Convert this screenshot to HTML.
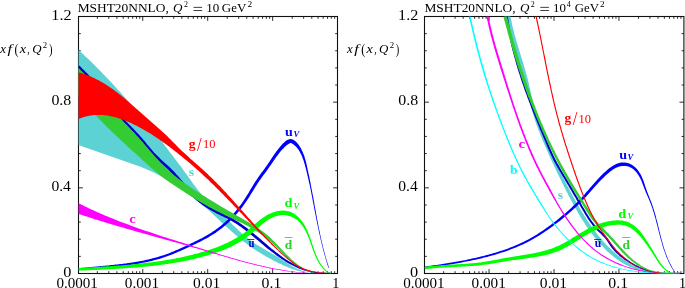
<!DOCTYPE html>
<html><head><meta charset="utf-8"><style>
html,body{margin:0;padding:0;background:#fff;width:685px;height:288px;overflow:hidden}
svg{display:block;font-family:"Liberation Serif",serif;will-change:transform}
</style></head><body>
<svg width="685" height="288" viewBox="0 0 685 288">
<defs>
<clipPath id="cl"><rect x="78.50" y="16.50" width="259.00" height="257.00"/></clipPath>
<clipPath id="cr"><rect x="424.50" y="16.50" width="259.40" height="257.00"/></clipPath>
</defs>
<rect x="78.50" y="16.50" width="259.00" height="257.00" fill="none" stroke="#111" stroke-width="1.1"/>
<path d="M97.35,273.50v-2.30M97.35,16.50v2.30M108.79,273.50v-2.30M108.79,16.50v2.30M116.90,273.50v-2.30M116.90,16.50v2.30M123.20,273.50v-2.30M123.20,16.50v2.30M128.34,273.50v-2.30M128.34,16.50v2.30M132.69,273.50v-2.30M132.69,16.50v2.30M136.46,273.50v-2.30M136.46,16.50v2.30M139.78,273.50v-2.30M139.78,16.50v2.30M142.75,273.50v-4.40M142.75,16.50v4.40M162.30,273.50v-2.30M162.30,16.50v2.30M173.74,273.50v-2.30M173.74,16.50v2.30M181.85,273.50v-2.30M181.85,16.50v2.30M188.15,273.50v-2.30M188.15,16.50v2.30M193.29,273.50v-2.30M193.29,16.50v2.30M197.64,273.50v-2.30M197.64,16.50v2.30M201.41,273.50v-2.30M201.41,16.50v2.30M204.73,273.50v-2.30M204.73,16.50v2.30M207.70,273.50v-4.40M207.70,16.50v4.40M227.25,273.50v-2.30M227.25,16.50v2.30M238.69,273.50v-2.30M238.69,16.50v2.30M246.80,273.50v-2.30M246.80,16.50v2.30M253.10,273.50v-2.30M253.10,16.50v2.30M258.24,273.50v-2.30M258.24,16.50v2.30M262.59,273.50v-2.30M262.59,16.50v2.30M266.36,273.50v-2.30M266.36,16.50v2.30M269.68,273.50v-2.30M269.68,16.50v2.30M272.65,273.50v-4.40M272.65,16.50v4.40M292.20,273.50v-2.30M292.20,16.50v2.30M303.64,273.50v-2.30M303.64,16.50v2.30M311.75,273.50v-2.30M311.75,16.50v2.30M318.05,273.50v-2.30M318.05,16.50v2.30M323.19,273.50v-2.30M323.19,16.50v2.30M327.54,273.50v-2.30M327.54,16.50v2.30M331.31,273.50v-2.30M331.31,16.50v2.30M334.63,273.50v-2.30M334.63,16.50v2.30M78.50,256.37h2.30M337.50,256.37h-2.30M78.50,239.23h2.30M337.50,239.23h-2.30M78.50,222.10h2.30M337.50,222.10h-2.30M78.50,204.97h2.30M337.50,204.97h-2.30M78.50,187.83h4.40M337.50,187.83h-4.40M78.50,170.70h2.30M337.50,170.70h-2.30M78.50,153.57h2.30M337.50,153.57h-2.30M78.50,136.43h2.30M337.50,136.43h-2.30M78.50,119.30h2.30M337.50,119.30h-2.30M78.50,102.17h4.40M337.50,102.17h-4.40M78.50,85.03h2.30M337.50,85.03h-2.30M78.50,67.90h2.30M337.50,67.90h-2.30M78.50,50.77h2.30M337.50,50.77h-2.30M78.50,33.63h2.30M337.50,33.63h-2.30" stroke="#151515" stroke-width="0.9" fill="none"/>
<rect x="424.50" y="16.50" width="259.40" height="257.00" fill="none" stroke="#111" stroke-width="1.1"/>
<path d="M443.65,273.50v-2.30M443.65,16.50v2.30M455.09,273.50v-2.30M455.09,16.50v2.30M463.20,273.50v-2.30M463.20,16.50v2.30M469.50,273.50v-2.30M469.50,16.50v2.30M474.64,273.50v-2.30M474.64,16.50v2.30M478.99,273.50v-2.30M478.99,16.50v2.30M482.76,273.50v-2.30M482.76,16.50v2.30M486.08,273.50v-2.30M486.08,16.50v2.30M489.05,273.50v-4.40M489.05,16.50v4.40M508.60,273.50v-2.30M508.60,16.50v2.30M520.04,273.50v-2.30M520.04,16.50v2.30M528.15,273.50v-2.30M528.15,16.50v2.30M534.45,273.50v-2.30M534.45,16.50v2.30M539.59,273.50v-2.30M539.59,16.50v2.30M543.94,273.50v-2.30M543.94,16.50v2.30M547.71,273.50v-2.30M547.71,16.50v2.30M551.03,273.50v-2.30M551.03,16.50v2.30M554.00,273.50v-4.40M554.00,16.50v4.40M573.55,273.50v-2.30M573.55,16.50v2.30M584.99,273.50v-2.30M584.99,16.50v2.30M593.10,273.50v-2.30M593.10,16.50v2.30M599.40,273.50v-2.30M599.40,16.50v2.30M604.54,273.50v-2.30M604.54,16.50v2.30M608.89,273.50v-2.30M608.89,16.50v2.30M612.66,273.50v-2.30M612.66,16.50v2.30M615.98,273.50v-2.30M615.98,16.50v2.30M618.95,273.50v-4.40M618.95,16.50v4.40M638.50,273.50v-2.30M638.50,16.50v2.30M649.94,273.50v-2.30M649.94,16.50v2.30M658.05,273.50v-2.30M658.05,16.50v2.30M664.35,273.50v-2.30M664.35,16.50v2.30M669.49,273.50v-2.30M669.49,16.50v2.30M673.84,273.50v-2.30M673.84,16.50v2.30M677.61,273.50v-2.30M677.61,16.50v2.30M680.93,273.50v-2.30M680.93,16.50v2.30M424.50,256.37h2.30M683.90,256.37h-2.30M424.50,239.23h2.30M683.90,239.23h-2.30M424.50,222.10h2.30M683.90,222.10h-2.30M424.50,204.97h2.30M683.90,204.97h-2.30M424.50,187.83h4.40M683.90,187.83h-4.40M424.50,170.70h2.30M683.90,170.70h-2.30M424.50,153.57h2.30M683.90,153.57h-2.30M424.50,136.43h2.30M683.90,136.43h-2.30M424.50,119.30h2.30M683.90,119.30h-2.30M424.50,102.17h4.40M683.90,102.17h-4.40M424.50,85.03h2.30M683.90,85.03h-2.30M424.50,67.90h2.30M683.90,67.90h-2.30M424.50,50.77h2.30M683.90,50.77h-2.30M424.50,33.63h2.30M683.90,33.63h-2.30" stroke="#151515" stroke-width="0.9" fill="none"/>
<g clip-path="url(#cl)">
<polygon points="78.2,49.8 79.4,50.8 80.5,51.8 81.6,52.8 82.7,53.8 83.8,54.8 84.9,55.9 86.0,56.9 87.1,58.0 88.2,59.0 89.3,60.0 90.4,61.1 91.4,62.1 92.5,63.2 93.6,64.2 94.7,65.3 95.7,66.4 96.8,67.4 97.8,68.5 98.9,69.6 100.0,70.7 101.0,71.7 102.1,72.8 103.1,73.9 104.1,75.0 105.2,76.1 106.2,77.2 107.3,78.3 108.3,79.3 109.3,80.4 110.4,81.5 111.4,82.6 112.4,83.7 113.4,84.8 114.5,86.0 115.5,87.1 116.5,88.2 117.5,89.3 118.5,90.4 119.6,91.5 120.6,92.6 121.6,93.7 122.6,94.9 123.6,96.0 124.6,97.1 125.6,98.2 126.6,99.3 127.6,100.5 128.6,101.6 129.6,102.7 130.7,103.8 131.7,104.9 132.7,106.1 133.7,107.2 134.7,108.3 135.7,109.5 136.7,110.6 137.7,111.7 138.7,112.8 139.7,114.0 140.7,115.1 141.7,116.2 142.7,117.3 143.6,118.5 144.6,119.6 145.6,120.7 146.6,121.9 147.6,123.0 148.5,124.2 149.5,125.3 150.5,126.5 151.4,127.7 152.4,128.8 153.3,130.0 154.3,131.2 155.2,132.3 156.1,133.5 157.0,134.7 157.9,135.9 158.8,137.1 159.7,138.4 160.6,139.6 161.5,140.8 162.4,142.0 163.3,143.2 164.2,144.4 165.0,145.7 165.9,146.9 166.8,148.1 167.7,149.3 168.6,150.5 169.5,151.7 170.4,152.9 171.3,154.1 172.2,155.3 173.2,156.5 174.1,157.7 175.0,158.9 175.9,160.1 176.8,161.3 177.7,162.5 178.6,163.7 179.5,164.9 180.5,166.1 181.4,167.3 182.3,168.5 183.2,169.7 184.0,170.9 184.9,172.2 185.8,173.4 186.7,174.6 187.6,175.8 188.4,177.1 189.3,178.3 190.2,179.5 191.1,180.7 191.9,182.0 192.8,183.2 193.7,184.4 194.6,185.6 195.5,186.8 196.4,188.0 197.3,189.2 198.2,190.4 199.2,191.5 200.1,192.7 201.1,193.8 202.1,195.0 203.1,196.1 204.1,197.2 205.1,198.3 206.2,199.4 207.2,200.4 208.3,201.5 209.3,202.6 210.4,203.6 211.5,204.7 212.6,205.7 213.7,206.8 214.8,207.8 215.9,208.8 217.0,209.9 218.1,210.9 219.2,211.9 220.3,212.9 221.4,214.0 222.5,215.0 223.7,216.0 224.8,217.1 225.9,218.1 227.0,219.1 228.0,220.2 229.1,221.2 230.2,222.3 231.3,223.3 232.4,224.4 233.5,225.4 234.5,226.5 235.6,227.5 236.7,228.6 237.8,229.6 238.9,230.7 240.0,231.7 241.1,232.7 242.2,233.7 243.3,234.7 244.4,235.7 245.6,236.6 246.7,237.6 247.9,238.5 249.1,239.4 250.3,240.3 251.5,241.2 252.7,242.0 254.0,242.9 255.2,243.7 256.5,244.5 257.8,245.3 259.1,246.1 260.3,246.9 261.6,247.6 262.9,248.4 264.3,249.1 265.6,249.9 266.9,250.7 268.2,251.4 269.5,252.2 270.8,252.9 272.1,253.7 273.5,254.4 274.8,255.2 276.1,256.0 277.4,256.8 278.7,257.6 279.9,258.4 281.2,259.2 282.5,260.0 283.8,260.9 285.0,261.7 286.3,262.5 287.6,263.3 288.8,264.1 290.1,264.9 291.4,265.6 292.7,266.4 294.0,267.1 295.3,267.8 296.6,268.5 298.0,269.1 299.3,269.7 300.7,270.3 302.1,270.8 303.5,271.3 304.9,271.7 306.3,272.1 307.8,272.4 309.3,272.7 310.8,272.9 312.3,273.1 313.8,273.2 315.3,273.3 316.9,273.3 318.5,273.2 320.1,273.1 320.0,273.0 318.5,273.2 316.9,273.2 315.4,273.3 313.9,273.2 312.3,273.2 310.8,273.1 309.3,273.0 307.8,272.8 306.3,272.6 304.8,272.4 303.4,272.1 301.9,271.8 300.4,271.5 299.0,271.1 297.5,270.7 296.1,270.3 294.7,269.8 293.3,269.3 291.8,268.8 290.4,268.3 289.0,267.7 287.6,267.2 286.2,266.6 284.8,266.0 283.5,265.4 282.1,264.7 280.7,264.1 279.3,263.4 278.0,262.7 276.6,262.1 275.3,261.4 273.9,260.7 272.6,260.0 271.2,259.3 269.9,258.6 268.5,257.8 267.2,257.1 265.9,256.4 264.6,255.6 263.3,254.8 262.0,254.1 260.7,253.3 259.4,252.5 258.1,251.7 256.8,250.9 255.6,250.1 254.3,249.2 253.0,248.4 251.8,247.5 250.6,246.7 249.3,245.8 248.1,244.9 246.9,244.0 245.7,243.1 244.5,242.2 243.3,241.3 242.1,240.4 240.9,239.4 239.7,238.5 238.6,237.5 237.4,236.6 236.3,235.6 235.1,234.6 234.0,233.6 232.8,232.6 231.7,231.6 230.6,230.6 229.5,229.6 228.4,228.6 227.3,227.6 226.1,226.5 225.0,225.5 223.9,224.5 222.8,223.4 221.7,222.4 220.6,221.4 219.5,220.3 218.4,219.3 217.3,218.3 216.2,217.2 215.1,216.2 214.0,215.2 212.8,214.2 211.7,213.1 210.6,212.1 209.5,211.1 208.3,210.1 207.2,209.1 206.0,208.1 204.9,207.1 203.7,206.2 202.6,205.2 201.4,204.2 200.2,203.3 199.1,202.3 197.9,201.3 196.7,200.4 195.5,199.4 194.3,198.5 193.1,197.6 191.9,196.7 190.7,195.7 189.5,194.8 188.3,193.9 187.1,193.0 185.8,192.1 184.6,191.2 183.4,190.4 182.1,189.5 180.9,188.6 179.6,187.8 178.4,186.9 177.1,186.1 175.9,185.3 174.6,184.4 173.3,183.6 172.1,182.8 170.8,182.0 169.5,181.2 168.2,180.4 166.9,179.6 165.6,178.9 164.3,178.1 163.0,177.4 161.7,176.6 160.4,175.9 159.0,175.2 157.7,174.5 156.4,173.8 155.0,173.1 153.7,172.4 152.3,171.8 150.9,171.2 149.5,170.6 148.2,170.0 146.8,169.4 145.4,168.8 144.0,168.2 142.6,167.7 141.2,167.1 139.7,166.6 138.3,166.0 136.9,165.5 135.5,165.0 134.1,164.5 132.6,164.0 131.2,163.5 129.8,163.0 128.4,162.5 126.9,162.0 125.5,161.5 124.1,161.0 122.6,160.5 121.2,160.0 119.8,159.5 118.3,159.0 116.9,158.5 115.5,158.0 114.0,157.5 112.6,157.0 111.2,156.5 109.7,156.1 108.3,155.6 106.9,155.1 105.4,154.6 104.0,154.1 102.6,153.6 101.1,153.1 99.7,152.6 98.3,152.1 96.9,151.6 95.4,151.1 94.0,150.6 92.6,150.1 91.1,149.6 89.7,149.1 88.3,148.6 86.9,148.1 85.4,147.6 84.0,147.1 82.6,146.6 81.2,146.1 79.8,145.5 78.3,145.0" fill="#5cd2d4" stroke="none" />
<polygon points="77.3,67.4 78.4,68.5 79.5,69.5 80.5,70.6 81.6,71.6 82.7,72.7 83.7,73.8 84.8,74.9 85.8,75.9 86.8,77.0 87.9,78.1 88.9,79.2 89.9,80.3 90.9,81.4 91.9,82.6 92.9,83.7 93.9,84.8 94.9,86.0 95.9,87.1 96.8,88.2 97.8,89.4 98.7,90.6 99.7,91.7 100.6,92.9 101.6,94.1 102.5,95.3 103.4,96.5 104.3,97.6 105.2,98.8 106.1,100.1 107.0,101.3 107.9,102.5 108.8,103.7 109.7,104.9 110.6,106.1 111.5,107.3 112.4,108.6 113.3,109.8 114.2,111.0 115.1,112.2 116.0,113.4 117.0,114.6 117.9,115.8 118.8,117.0 119.8,118.1 120.8,119.3 121.8,120.4 122.8,121.6 123.8,122.7 124.8,123.8 125.9,124.9 126.9,126.0 128.0,127.1 129.0,128.2 130.1,129.3 131.1,130.4 132.2,131.5 133.2,132.5 134.3,133.6 135.3,134.7 136.3,135.8 137.3,136.9 138.3,138.0 139.3,139.1 140.3,140.3 141.3,141.4 142.2,142.6 143.2,143.7 144.2,144.9 145.1,146.1 146.1,147.2 147.0,148.4 148.0,149.6 149.0,150.7 150.0,151.9 151.0,153.0 152.0,154.2 153.0,155.3 154.1,156.4 155.1,157.5 156.2,158.5 157.3,159.6 158.4,160.6 159.5,161.7 160.6,162.7 161.7,163.7 162.8,164.7 163.9,165.7 165.0,166.7 166.1,167.7 167.2,168.8 168.3,169.8 169.4,170.8 170.4,171.9 171.5,172.9 172.5,174.0 173.5,175.1 174.5,176.2 175.5,177.3 176.5,178.4 177.5,179.6 178.5,180.7 179.5,181.9 180.4,183.1 181.4,184.2 182.4,185.4 183.4,186.5 184.3,187.7 185.3,188.9 186.3,190.0 187.3,191.1 188.3,192.3 189.4,193.4 190.4,194.5 191.5,195.6 192.5,196.7 193.6,197.7 194.7,198.8 195.9,199.8 197.0,200.8 198.2,201.7 199.4,202.7 200.6,203.6 201.8,204.5 203.1,205.4 204.3,206.3 205.6,207.1 206.9,207.9 208.2,208.8 209.5,209.5 210.8,210.3 212.1,211.0 213.5,211.8 214.9,212.5 216.2,213.2 217.6,213.9 219.0,214.5 220.3,215.2 221.7,215.9 223.1,216.5 224.4,217.2 225.8,217.9 227.1,218.6 228.5,219.3 229.8,220.0 231.1,220.7 232.4,221.4 233.6,222.2 234.9,223.0 236.2,223.8 237.4,224.6 238.6,225.4 239.8,226.3 241.1,227.1 242.3,228.0 243.5,228.9 244.6,229.8 245.8,230.7 247.0,231.6 248.2,232.5 249.3,233.4 250.5,234.4 251.7,235.3 252.8,236.3 254.0,237.2 255.1,238.2 256.3,239.2 257.5,240.1 258.6,241.1 259.8,242.1 260.9,243.1 262.1,244.0 263.3,245.0 264.4,246.0 265.6,247.0 266.8,247.9 268.0,248.9 269.2,249.8 270.4,250.8 271.6,251.7 272.8,252.6 274.1,253.6 275.3,254.5 276.5,255.4 277.7,256.3 279.0,257.2 280.3,258.0 281.5,258.9 282.8,259.7 284.1,260.6 285.3,261.4 286.6,262.2 287.9,262.9 289.2,263.7 290.6,264.4 291.9,265.1 293.2,265.8 294.6,266.5 295.9,267.1 297.3,267.8 298.7,268.4 300.1,268.9 301.5,269.5 302.9,270.0 304.3,270.5 305.7,270.9 307.2,271.3 308.6,271.7 310.1,272.1 311.6,272.4 313.1,272.7 314.6,272.9 316.1,273.2 317.6,273.4 319.1,273.5 320.7,273.6 322.2,273.7 323.8,273.7 325.4,273.7 327.0,273.7 328.6,273.6 330.3,273.5 330.2,272.5 328.6,272.6 327.0,272.7 325.4,272.7 323.8,272.7 322.3,272.7 320.7,272.6 319.2,272.4 317.7,272.3 316.2,272.1 314.7,271.8 313.3,271.5 311.8,271.2 310.4,270.9 309.0,270.5 307.5,270.0 306.1,269.6 304.8,269.1 303.4,268.6 302.0,268.1 300.7,267.5 299.3,266.9 298.0,266.3 296.7,265.6 295.4,265.0 294.0,264.3 292.8,263.6 291.5,262.8 290.2,262.1 288.9,261.3 287.7,260.5 286.4,259.7 285.2,258.9 283.9,258.0 282.7,257.2 281.5,256.3 280.3,255.4 279.1,254.5 277.9,253.6 276.7,252.7 275.5,251.7 274.3,250.8 273.1,249.8 271.9,248.9 270.8,247.9 269.6,246.9 268.4,246.0 267.3,245.0 266.1,244.0 265.0,243.0 263.8,242.0 262.6,241.0 261.5,240.1 260.3,239.1 259.2,238.1 258.0,237.1 256.9,236.1 255.7,235.2 254.6,234.2 253.4,233.2 252.2,232.3 251.0,231.3 249.9,230.4 248.7,229.5 247.5,228.5 246.3,227.6 245.1,226.7 243.8,225.8 242.6,224.9 241.4,224.1 240.1,223.2 238.9,222.3 237.6,221.5 236.3,220.7 235.0,219.9 233.7,219.1 232.4,218.4 231.1,217.6 229.7,216.9 228.4,216.2 227.0,215.5 225.6,214.8 224.3,214.1 222.9,213.5 221.5,212.8 220.2,212.1 218.8,211.4 217.4,210.8 216.1,210.1 214.8,209.4 213.4,208.7 212.1,208.0 210.8,207.2 209.6,206.4 208.3,205.7 207.1,204.9 205.8,204.0 204.6,203.2 203.4,202.3 202.2,201.5 201.1,200.6 199.9,199.7 198.8,198.7 197.7,197.8 196.6,196.8 195.5,195.8 194.4,194.7 193.4,193.7 192.4,192.6 191.3,191.6 190.3,190.5 189.3,189.3 188.3,188.2 187.4,187.1 186.4,185.9 185.4,184.8 184.4,183.6 183.5,182.5 182.5,181.3 181.5,180.2 180.5,179.0 179.6,177.8 178.6,176.7 177.6,175.5 176.5,174.4 175.5,173.3 174.5,172.1 173.4,171.0 172.4,170.0 171.3,168.9 170.2,167.8 169.1,166.8 168.0,165.8 166.9,164.7 165.8,163.7 164.6,162.7 163.5,161.7 162.4,160.7 161.3,159.7 160.2,158.7 159.2,157.6 158.1,156.6 157.0,155.6 156.0,154.5 155.0,153.4 154.0,152.4 153.0,151.2 152.0,150.1 151.0,149.0 150.1,147.8 149.1,146.7 148.2,145.5 147.2,144.4 146.2,143.2 145.3,142.0 144.3,140.8 143.3,139.7 142.4,138.5 141.4,137.4 140.3,136.2 139.3,135.1 138.3,134.0 137.3,132.9 136.2,131.8 135.2,130.7 134.1,129.6 133.1,128.5 132.0,127.4 131.0,126.3 129.9,125.2 128.9,124.2 127.8,123.1 126.8,122.0 125.8,120.9 124.8,119.8 123.8,118.7 122.8,117.5 121.9,116.4 120.9,115.3 120.0,114.1 119.1,112.9 118.2,111.7 117.2,110.6 116.3,109.4 115.4,108.2 114.5,107.0 113.6,105.7 112.8,104.5 111.9,103.3 111.0,102.1 110.1,100.9 109.2,99.7 108.3,98.4 107.4,97.2 106.5,96.0 105.5,94.8 104.6,93.6 103.7,92.4 102.7,91.2 101.8,90.0 100.8,88.9 99.9,87.7 98.9,86.5 97.9,85.4 96.9,84.2 95.9,83.1 94.9,81.9 93.9,80.8 92.9,79.6 91.9,78.5 90.9,77.4 89.8,76.3 88.8,75.2 87.8,74.1 86.7,73.0 85.6,71.9 84.6,70.8 83.5,69.7 82.4,68.7 81.3,67.6 80.3,66.5 79.2,65.5" fill="#0000cd" stroke="none" />
<polygon points="78.4,270.3 79.9,270.1 81.4,270.0 82.9,269.8 84.4,269.7 85.9,269.5 87.4,269.4 88.9,269.2 90.3,269.1 91.8,269.0 93.3,268.8 94.8,268.7 96.3,268.5 97.9,268.4 99.4,268.3 100.9,268.1 102.4,268.0 103.9,267.9 105.4,267.7 106.9,267.6 108.4,267.5 109.9,267.3 111.4,267.2 112.9,267.0 114.5,266.9 116.0,266.7 117.5,266.6 119.0,266.4 120.5,266.2 122.0,266.0 123.5,265.9 125.0,265.7 126.5,265.5 128.0,265.3 129.5,265.1 131.1,264.9 132.6,264.6 134.1,264.4 135.6,264.2 137.0,263.9 138.5,263.7 140.0,263.4 141.5,263.1 143.0,262.8 144.5,262.5 146.0,262.2 147.5,261.9 148.9,261.6 150.4,261.2 151.9,260.9 153.3,260.5 154.8,260.1 156.3,259.7 157.7,259.3 159.2,258.9 160.6,258.5 162.1,258.0 163.5,257.6 164.9,257.1 166.4,256.6 167.8,256.1 169.2,255.5 170.6,255.0 172.0,254.4 173.4,253.9 174.8,253.3 176.2,252.7 177.6,252.1 179.0,251.5 180.4,250.9 181.8,250.3 183.2,249.7 184.6,249.1 185.9,248.5 187.3,247.8 188.7,247.2 190.1,246.5 191.5,245.9 192.8,245.3 194.2,244.6 195.6,243.9 196.9,243.3 198.3,242.6 199.7,241.9 201.0,241.2 202.4,240.5 203.7,239.8 205.1,239.1 206.4,238.4 207.7,237.7 209.0,236.9 210.3,236.1 211.6,235.3 212.9,234.5 214.2,233.7 215.5,232.9 216.7,232.0 218.0,231.1 219.2,230.2 220.4,229.3 221.6,228.4 222.8,227.4 223.9,226.4 225.1,225.4 226.2,224.4 227.4,223.4 228.5,222.4 229.6,221.4 230.7,220.3 231.8,219.2 232.8,218.1 233.9,217.0 234.9,215.9 235.9,214.8 237.0,213.6 237.9,212.5 238.9,211.3 239.9,210.1 240.8,208.9 241.8,207.7 242.7,206.5 243.6,205.2 244.5,204.0 245.4,202.8 246.2,201.5 247.1,200.2 247.9,199.0 248.8,197.7 249.6,196.4 250.4,195.1 251.2,193.8 252.0,192.5 252.8,191.2 253.5,189.9 254.3,188.7 255.1,187.4 255.9,186.1 256.7,184.9 257.5,183.6 258.3,182.4 259.2,181.1 260.0,179.9 260.9,178.7 261.7,177.5 262.6,176.3 263.5,175.1 264.4,173.9 265.3,172.7 266.2,171.5 267.1,170.3 268.0,169.0 268.8,167.8 269.7,166.6 270.6,165.3 271.5,164.1 272.3,162.8 273.2,161.6 274.0,160.3 274.9,159.1 275.8,157.8 276.6,156.6 277.5,155.4 278.4,154.2 279.3,153.0 280.3,151.8 281.2,150.6 282.3,149.5 283.3,148.4 284.4,147.3 285.5,146.3 286.6,145.3 287.8,144.4 288.9,143.7 289.8,143.3 290.5,143.1 291.1,143.1 291.9,143.4 292.8,144.0 293.9,144.8 294.9,145.7 295.9,146.6 296.8,147.6 297.7,148.7 298.5,149.8 299.3,151.0 300.0,152.2 300.6,153.5 301.3,154.8 301.9,156.1 302.4,157.5 302.9,158.9 303.5,160.3 303.9,161.8 304.4,163.2 304.8,164.7 305.2,166.2 305.6,167.7 306.0,169.2 306.4,170.7 306.7,172.2 307.1,173.7 307.4,175.2 307.8,176.7 308.1,178.2 308.5,179.7 308.8,181.2 309.1,182.7 309.5,184.2 309.8,185.6 310.1,187.1 310.4,188.6 310.7,190.1 311.0,191.6 311.3,193.1 311.6,194.5 311.9,196.0 312.2,197.5 312.4,199.0 312.7,200.5 313.0,201.9 313.3,203.4 313.6,204.9 313.9,206.3 314.1,207.8 314.4,209.3 314.7,210.8 315.0,212.2 315.3,213.7 315.6,215.2 315.8,216.6 316.1,218.1 316.4,219.6 316.7,221.0 317.0,222.5 317.3,224.0 317.6,225.4 317.9,226.9 318.2,228.3 318.5,229.8 318.8,231.3 319.1,232.7 319.5,234.2 319.8,235.6 320.1,237.1 320.4,238.6 320.8,240.0 321.1,241.5 321.5,243.0 321.8,244.4 322.2,245.9 322.6,247.3 322.9,248.8 323.3,250.3 323.7,251.7 324.1,253.2 324.5,254.7 324.9,256.1 325.3,257.6 325.7,259.1 326.2,260.5 326.6,262.0 327.1,263.5 327.5,264.9 328.0,266.4 328.5,267.9 329.0,267.7 328.5,266.2 328.1,264.8 327.6,263.3 327.1,261.8 326.7,260.4 326.3,258.9 325.8,257.4 325.4,256.0 325.0,254.5 324.6,253.0 324.2,251.6 323.8,250.1 323.5,248.7 323.1,247.2 322.7,245.7 322.4,244.3 322.0,242.8 321.7,241.4 321.4,239.9 321.0,238.4 320.7,237.0 320.4,235.5 320.1,234.1 319.8,232.6 319.5,231.1 319.2,229.7 318.9,228.2 318.6,226.7 318.3,225.3 318.0,223.8 317.8,222.3 317.5,220.9 317.2,219.4 316.9,217.9 316.7,216.5 316.4,215.0 316.1,213.5 315.9,212.1 315.6,210.6 315.3,209.1 315.1,207.7 314.8,206.2 314.5,204.7 314.3,203.2 314.0,201.7 313.7,200.3 313.5,198.8 313.2,197.3 312.9,195.8 312.6,194.3 312.4,192.9 312.1,191.4 311.8,189.9 311.5,188.4 311.2,186.9 310.9,185.4 310.7,183.9 310.4,182.4 310.1,180.9 309.8,179.4 309.5,177.9 309.2,176.4 308.9,174.9 308.5,173.4 308.2,171.9 307.9,170.4 307.5,168.8 307.2,167.3 306.9,165.8 306.5,164.3 306.2,162.8 305.8,161.2 305.4,159.7 304.9,158.2 304.5,156.8 304.0,155.3 303.4,153.9 302.9,152.4 302.2,151.0 301.6,149.7 300.9,148.3 300.1,147.0 299.3,145.7 298.4,144.5 297.4,143.3 296.3,142.1 295.1,141.0 293.7,140.0 292.1,139.2 290.2,139.0 288.4,139.4 286.8,140.3 285.4,141.3 284.1,142.5 282.9,143.6 281.8,144.8 280.7,146.0 279.7,147.2 278.7,148.5 277.7,149.7 276.7,151.0 275.8,152.2 274.9,153.5 274.0,154.8 273.2,156.0 272.3,157.3 271.5,158.6 270.6,159.9 269.8,161.1 269.0,162.4 268.1,163.6 267.3,164.9 266.4,166.1 265.5,167.3 264.7,168.5 263.8,169.7 262.9,170.9 262.0,172.1 261.1,173.3 260.2,174.6 259.3,175.8 258.5,177.0 257.6,178.2 256.8,179.5 255.9,180.8 255.1,182.0 254.3,183.3 253.5,184.6 252.7,185.9 251.9,187.2 251.1,188.5 250.3,189.8 249.6,191.1 248.8,192.4 248.0,193.7 247.2,194.9 246.4,196.2 245.6,197.5 244.8,198.7 244.0,200.0 243.2,201.2 242.3,202.5 241.5,203.7 240.6,204.9 239.7,206.1 238.8,207.3 237.9,208.5 236.9,209.6 236.0,210.8 235.0,211.9 234.0,213.0 233.0,214.2 232.0,215.3 231.0,216.4 229.9,217.4 228.9,218.5 227.8,219.5 226.8,220.6 225.7,221.6 224.6,222.6 223.5,223.6 222.3,224.5 221.2,225.5 220.0,226.4 218.9,227.3 217.7,228.2 216.5,229.1 215.3,230.0 214.1,230.8 212.8,231.6 211.6,232.4 210.3,233.2 209.1,234.0 207.8,234.8 206.5,235.5 205.2,236.3 203.9,237.0 202.6,237.7 201.3,238.4 199.9,239.1 198.6,239.8 197.2,240.5 195.9,241.1 194.5,241.8 193.2,242.4 191.8,243.1 190.4,243.7 189.1,244.4 187.7,245.0 186.3,245.7 185.0,246.3 183.6,246.9 182.2,247.6 180.8,248.2 179.5,248.8 178.1,249.4 176.7,250.0 175.3,250.6 174.0,251.2 172.6,251.8 171.2,252.3 169.8,252.9 168.4,253.4 167.0,253.9 165.6,254.4 164.2,254.9 162.8,255.4 161.4,255.8 160.0,256.3 158.5,256.7 157.1,257.2 155.7,257.6 154.2,258.0 152.8,258.3 151.3,258.7 149.9,259.1 148.4,259.4 147.0,259.7 145.5,260.1 144.1,260.4 142.6,260.7 141.1,261.0 139.6,261.2 138.2,261.5 136.7,261.8 135.2,262.0 133.7,262.3 132.2,262.5 130.7,262.7 129.2,262.9 127.8,263.1 126.3,263.4 124.8,263.5 123.3,263.7 121.8,263.9 120.3,264.1 118.8,264.3 117.3,264.5 115.7,264.6 114.2,264.8 112.7,264.9 111.2,265.1 109.7,265.2 108.2,265.4 106.7,265.5 105.2,265.7 103.7,265.8 102.2,266.0 100.7,266.1 99.2,266.3 97.7,266.4 96.2,266.5 94.7,266.7 93.2,266.8 91.7,267.0 90.2,267.1 88.7,267.2 87.2,267.4 85.7,267.5 84.2,267.7 82.7,267.8 81.2,268.0 79.7,268.1 78.2,268.3" fill="#0000ff" stroke="none" />
<polygon points="78.4,270.7 79.9,270.6 81.4,270.6 82.9,270.5 84.4,270.4 85.9,270.4 87.4,270.3 88.9,270.2 90.4,270.2 91.9,270.1 93.4,270.0 94.9,269.9 96.5,269.9 98.0,269.8 99.5,269.7 101.0,269.7 102.5,269.6 104.0,269.5 105.5,269.4 107.0,269.3 108.5,269.3 110.0,269.2 111.6,269.1 113.1,269.0 114.6,268.9 116.1,268.8 117.6,268.8 119.1,268.7 120.6,268.6 122.1,268.5 123.7,268.4 125.2,268.3 126.7,268.2 128.2,268.1 129.7,268.0 131.2,267.8 132.7,267.7 134.2,267.6 135.8,267.5 137.3,267.4 138.8,267.2 140.3,267.1 141.8,267.0 143.3,266.8 144.8,266.7 146.3,266.5 147.8,266.4 149.3,266.2 150.9,266.0 152.4,265.9 153.9,265.7 155.4,265.5 156.9,265.4 158.4,265.2 159.9,265.0 161.4,264.8 162.9,264.6 164.4,264.4 165.9,264.1 167.4,263.9 168.9,263.7 170.4,263.5 171.9,263.2 173.4,263.0 174.9,262.7 176.4,262.5 177.9,262.2 179.4,262.0 180.9,261.7 182.4,261.4 183.9,261.1 185.4,260.8 186.9,260.5 188.3,260.2 189.8,259.9 191.3,259.5 192.8,259.2 194.3,258.9 195.8,258.5 197.2,258.1 198.7,257.8 200.2,257.4 201.7,257.0 203.2,256.6 204.6,256.2 206.1,255.8 207.6,255.4 209.0,255.0 210.5,254.5 212.0,254.1 213.4,253.6 214.9,253.1 216.3,252.6 217.8,252.1 219.2,251.6 220.7,251.1 222.1,250.5 223.5,249.9 224.9,249.4 226.3,248.8 227.7,248.2 229.1,247.5 230.5,246.9 231.9,246.2 233.3,245.5 234.7,244.8 236.0,244.1 237.3,243.4 238.7,242.6 240.0,241.8 241.3,241.0 242.6,240.2 243.9,239.3 245.1,238.4 246.4,237.5 247.7,236.6 248.9,235.7 250.1,234.7 251.3,233.7 252.5,232.7 253.7,231.7 254.8,230.7 256.0,229.7 257.1,228.7 258.2,227.7 259.4,226.7 260.5,225.7 261.6,224.7 262.8,223.8 263.9,222.9 265.1,222.0 266.3,221.1 267.4,220.3 268.7,219.6 269.9,218.8 271.2,218.2 272.4,217.5 273.8,217.0 275.1,216.5 276.5,216.0 277.9,215.7 279.3,215.4 280.8,215.2 282.2,215.0 283.6,215.0 284.9,215.1 286.3,215.2 287.6,215.5 288.9,215.9 290.2,216.3 291.4,216.8 292.7,217.3 293.9,218.0 295.1,218.7 296.3,219.5 297.4,220.3 298.5,221.3 299.5,222.3 300.4,223.3 301.3,224.4 302.2,225.5 303.0,226.7 303.8,227.9 304.6,229.2 305.3,230.5 305.9,231.8 306.6,233.2 307.2,234.5 307.8,235.9 308.4,237.4 308.9,238.8 309.5,240.2 310.0,241.7 310.5,243.1 311.0,244.6 311.5,246.1 312.0,247.5 312.6,249.0 313.1,250.5 313.6,251.9 314.2,253.3 314.8,254.8 315.4,256.2 316.0,257.6 316.6,258.9 317.3,260.3 318.0,261.6 318.8,262.9 319.6,264.2 320.4,265.4 321.3,266.6 322.2,267.8 323.2,269.0 324.2,270.1 325.3,271.1 326.5,272.1 327.8,273.0 329.3,273.6 330.9,273.9 331.0,273.0 329.5,272.7 328.3,272.1 327.1,271.3 326.0,270.3 325.0,269.3 324.0,268.2 323.1,267.1 322.2,266.0 321.3,264.8 320.5,263.6 319.8,262.3 319.1,261.0 318.4,259.7 317.7,258.4 317.1,257.1 316.5,255.7 315.9,254.3 315.4,252.9 314.8,251.5 314.3,250.0 313.8,248.6 313.3,247.1 312.8,245.6 312.3,244.2 311.8,242.7 311.3,241.2 310.8,239.8 310.3,238.3 309.8,236.8 309.2,235.4 308.7,233.9 308.1,232.5 307.5,231.1 306.9,229.7 306.2,228.3 305.5,227.0 304.8,225.6 304.0,224.3 303.2,223.0 302.3,221.8 301.4,220.6 300.4,219.4 299.4,218.2 298.3,217.1 297.1,216.1 295.9,215.0 294.6,214.1 293.2,213.3 291.8,212.5 290.2,211.8 288.7,211.3 287.0,211.0 285.4,210.7 283.7,210.6 282.0,210.6 280.3,210.7 278.6,211.0 276.9,211.3 275.3,211.7 273.7,212.2 272.1,212.8 270.6,213.4 269.1,214.1 267.7,214.8 266.3,215.6 264.9,216.4 263.6,217.3 262.3,218.2 261.1,219.1 259.8,220.1 258.6,221.0 257.4,222.0 256.2,223.0 255.0,224.0 253.9,225.0 252.7,226.0 251.6,227.0 250.4,228.0 249.3,228.9 248.2,229.9 247.0,230.8 245.8,231.7 244.7,232.6 243.5,233.4 242.3,234.3 241.1,235.1 239.8,235.9 238.6,236.6 237.3,237.4 236.1,238.1 234.8,238.8 233.5,239.5 232.2,240.2 230.9,240.9 229.6,241.6 228.3,242.2 227.0,242.9 225.6,243.5 224.3,244.1 223.0,244.7 221.6,245.3 220.2,245.8 218.8,246.4 217.5,246.9 216.1,247.4 214.7,248.0 213.3,248.5 211.9,249.0 210.5,249.5 209.1,249.9 207.6,250.4 206.2,250.8 204.8,251.3 203.3,251.7 201.9,252.1 200.5,252.6 199.0,253.0 197.6,253.4 196.1,253.8 194.7,254.1 193.2,254.5 191.8,254.9 190.3,255.2 188.9,255.6 187.4,255.9 185.9,256.3 184.5,256.6 183.0,256.9 181.5,257.2 180.1,257.5 178.6,257.9 177.1,258.1 175.7,258.4 174.2,258.7 172.7,259.0 171.2,259.3 169.8,259.5 168.3,259.8 166.8,260.0 165.3,260.3 163.8,260.5 162.3,260.8 160.9,261.0 159.4,261.2 157.9,261.4 156.4,261.6 154.9,261.8 153.4,262.0 151.9,262.2 150.4,262.4 148.9,262.6 147.4,262.8 145.9,263.0 144.4,263.1 142.9,263.3 141.4,263.5 139.9,263.6 138.4,263.8 136.9,263.9 135.4,264.1 133.9,264.2 132.4,264.4 130.9,264.5 129.4,264.7 127.9,264.8 126.4,264.9 124.9,265.0 123.4,265.2 121.9,265.3 120.4,265.4 118.9,265.5 117.4,265.6 115.9,265.7 114.4,265.8 112.9,266.0 111.4,266.1 109.9,266.2 108.4,266.2 106.8,266.3 105.3,266.4 103.8,266.5 102.3,266.6 100.8,266.7 99.3,266.8 97.8,266.9 96.3,267.0 94.8,267.1 93.3,267.2 91.8,267.2 90.3,267.3 88.8,267.4 87.3,267.5 85.8,267.6 84.3,267.7 82.8,267.8 81.3,267.8 79.8,267.9 78.3,268.0" fill="#00ff00" stroke="none" />
<polygon points="78.3,67.6 79.3,68.7 80.4,69.8 81.4,70.9 82.5,71.9 83.5,73.0 84.6,74.1 85.6,75.2 86.7,76.3 87.7,77.3 88.8,78.4 89.8,79.5 90.9,80.6 91.9,81.7 92.9,82.8 93.9,83.9 94.9,85.1 95.9,86.2 96.9,87.3 97.9,88.5 98.9,89.6 99.9,90.8 100.8,91.9 101.8,93.1 102.7,94.3 103.6,95.5 104.6,96.7 105.5,97.9 106.3,99.1 107.2,100.3 108.1,101.6 109.0,102.8 109.8,104.0 110.7,105.3 111.5,106.5 112.4,107.7 113.3,109.0 114.2,110.2 115.1,111.4 116.0,112.6 116.9,113.8 117.8,115.0 118.7,116.2 119.7,117.3 120.7,118.5 121.6,119.6 122.7,120.7 123.7,121.8 124.7,122.9 125.8,124.0 126.8,125.1 127.9,126.1 128.9,127.2 130.0,128.3 131.0,129.4 132.1,130.5 133.1,131.5 134.2,132.6 135.2,133.7 136.2,134.9 137.2,136.0 138.2,137.1 139.2,138.2 140.2,139.3 141.2,140.5 142.2,141.6 143.2,142.7 144.2,143.9 145.1,145.0 146.1,146.2 147.1,147.3 148.1,148.4 149.0,149.6 150.0,150.7 151.0,151.9 152.0,153.0 153.0,154.2 153.9,155.3 154.9,156.5 155.9,157.6 156.9,158.7 157.9,159.8 159.0,161.0 160.0,162.1 161.0,163.2 162.1,164.2 163.1,165.3 164.2,166.4 165.3,167.4 166.3,168.5 167.4,169.5 168.6,170.5 169.7,171.5 170.8,172.5 172.0,173.5 173.1,174.4 174.3,175.4 175.4,176.3 176.6,177.3 177.8,178.2 179.0,179.1 180.2,180.0 181.4,180.9 182.7,181.8 183.9,182.7 185.1,183.6 186.3,184.4 187.6,185.3 188.8,186.1 190.1,187.0 191.3,187.8 192.6,188.7 193.8,189.5 195.1,190.3 196.4,191.2 197.6,192.0 198.9,192.8 200.2,193.6 201.4,194.4 202.7,195.2 204.0,196.0 205.3,196.8 206.5,197.6 207.8,198.4 209.1,199.2 210.4,200.0 211.7,200.7 213.0,201.5 214.2,202.3 215.5,203.1 216.8,203.9 218.1,204.6 219.4,205.4 220.7,206.2 222.0,206.9 223.3,207.7 224.6,208.4 225.9,209.2 227.2,210.0 228.5,210.7 229.8,211.5 231.1,212.2 232.4,213.0 233.7,213.7 235.0,214.5 236.3,215.2 237.6,216.0 238.9,216.7 240.2,217.5 241.5,218.2 242.8,219.0 244.1,219.8 245.5,220.5 246.8,221.3 248.1,222.0 249.4,222.8 250.7,223.6 252.0,224.3 253.3,225.1 254.6,225.9 255.8,226.7 257.1,227.5 258.4,228.3 259.6,229.2 260.8,230.1 262.1,230.9 263.3,231.8 264.5,232.7 265.6,233.7 266.8,234.6 267.9,235.6 269.0,236.6 270.2,237.6 271.3,238.7 272.3,239.7 273.4,240.8 274.5,241.8 275.5,242.9 276.6,244.0 277.6,245.1 278.7,246.2 279.7,247.3 280.8,248.4 281.8,249.5 282.8,250.6 283.9,251.7 284.9,252.8 286.0,253.9 287.0,255.0 288.1,256.1 289.2,257.1 290.3,258.2 291.4,259.2 292.5,260.2 293.6,261.2 294.7,262.2 295.9,263.1 297.1,264.0 298.3,264.9 299.5,265.8 300.7,266.6 302.0,267.4 303.2,268.2 304.5,268.9 305.9,269.6 307.2,270.3 308.6,270.8 310.0,271.4 311.4,271.8 312.8,272.3 314.2,272.6 315.7,272.9 317.2,273.1 318.7,273.3 320.3,273.4 321.9,273.4 323.5,273.3 325.1,273.1 325.0,273.1 323.5,273.3 321.9,273.4 320.4,273.5 318.8,273.5 317.3,273.4 315.8,273.2 314.3,273.0 312.8,272.7 311.4,272.3 309.9,271.9 308.5,271.5 307.1,271.0 305.7,270.4 304.3,269.8 303.0,269.2 301.6,268.5 300.3,267.7 299.0,267.0 297.8,266.2 296.5,265.3 295.3,264.5 294.1,263.6 292.9,262.7 291.7,261.7 290.6,260.7 289.4,259.8 288.3,258.7 287.2,257.7 286.1,256.7 285.0,255.6 283.9,254.6 282.9,253.5 281.8,252.5 280.7,251.4 279.6,250.3 278.6,249.2 277.5,248.2 276.4,247.1 275.3,246.0 274.2,245.0 273.1,243.9 272.0,242.9 270.9,241.9 269.8,240.9 268.6,239.9 267.5,239.0 266.3,238.0 265.1,237.1 263.9,236.2 262.6,235.3 261.4,234.5 260.1,233.6 258.9,232.8 257.6,232.0 256.3,231.2 255.1,230.4 253.8,229.6 252.5,228.8 251.2,228.0 249.9,227.2 248.6,226.5 247.3,225.8 245.9,225.1 244.6,224.4 243.3,223.8 241.9,223.1 240.6,222.5 239.2,221.8 237.8,221.2 236.5,220.6 235.1,219.9 233.7,219.3 232.4,218.6 231.0,218.0 229.6,217.4 228.3,216.7 226.9,216.1 225.5,215.4 224.2,214.8 222.8,214.1 221.5,213.4 220.1,212.8 218.7,212.1 217.4,211.4 216.0,210.7 214.7,210.0 213.4,209.4 212.0,208.6 210.7,207.9 209.4,207.2 208.0,206.5 206.7,205.8 205.4,205.0 204.1,204.3 202.8,203.5 201.5,202.8 200.2,202.0 198.9,201.2 197.6,200.5 196.3,199.7 195.1,198.9 193.8,198.1 192.5,197.3 191.3,196.5 190.0,195.7 188.7,194.8 187.5,194.0 186.2,193.2 184.9,192.4 183.7,191.6 182.4,190.7 181.1,189.9 179.9,189.1 178.6,188.2 177.3,187.4 176.1,186.6 174.8,185.7 173.5,184.9 172.3,184.1 171.0,183.2 169.8,182.4 168.5,181.5 167.3,180.7 166.0,179.8 164.8,178.9 163.6,178.0 162.4,177.1 161.2,176.2 160.0,175.3 158.9,174.3 157.7,173.3 156.6,172.4 155.4,171.4 154.3,170.4 153.1,169.4 152.0,168.4 150.9,167.4 149.8,166.4 148.6,165.4 147.5,164.4 146.4,163.4 145.3,162.4 144.2,161.4 143.0,160.4 141.9,159.4 140.8,158.3 139.7,157.3 138.5,156.3 137.4,155.3 136.3,154.3 135.2,153.3 134.1,152.3 132.9,151.3 131.8,150.2 130.7,149.2 129.6,148.2 128.5,147.2 127.4,146.2 126.2,145.1 125.1,144.1 124.0,143.1 122.9,142.1 121.8,141.0 120.7,140.0 119.6,139.0 118.5,137.9 117.4,136.9 116.3,135.9 115.2,134.8 114.1,133.8 113.0,132.7 111.9,131.7 110.8,130.6 109.8,129.6 108.7,128.5 107.6,127.5 106.5,126.4 105.5,125.3 104.4,124.3 103.3,123.2 102.3,122.1 101.2,121.0 100.2,119.9 99.1,118.9 98.1,117.8 97.1,116.7 96.0,115.6 95.0,114.5 94.0,113.4 92.9,112.3 91.9,111.1 90.9,110.0 89.9,108.9 88.9,107.8 87.9,106.6 86.9,105.5 85.9,104.4 84.9,103.2 84.0,102.1 83.0,100.9 82.0,99.8 81.1,98.6 80.1,97.4 79.2,96.2 78.2,95.1" fill="#33cc33" stroke="none" />
<polygon points="78.2,203.0 79.6,203.7 80.9,204.4 82.3,205.1 83.7,205.8 85.0,206.4 86.4,207.1 87.8,207.7 89.1,208.4 90.5,209.0 91.9,209.7 93.3,210.3 94.6,210.9 96.0,211.5 97.4,212.2 98.8,212.8 100.2,213.4 101.5,214.0 102.9,214.6 104.3,215.2 105.7,215.8 107.1,216.3 108.5,216.9 109.9,217.5 111.3,218.1 112.7,218.6 114.1,219.2 115.5,219.8 116.9,220.3 118.3,220.9 119.7,221.4 121.1,221.9 122.5,222.5 123.9,223.0 125.4,223.6 126.8,224.1 128.2,224.6 129.6,225.1 131.0,225.7 132.4,226.2 133.9,226.7 135.3,227.2 136.7,227.7 138.1,228.2 139.5,228.7 141.0,229.2 142.4,229.7 143.8,230.2 145.2,230.7 146.7,231.2 148.1,231.6 149.5,232.1 151.0,232.6 152.4,233.1 153.8,233.6 155.3,234.0 156.7,234.5 158.1,235.0 159.6,235.5 161.0,235.9 162.5,236.4 163.9,236.9 165.3,237.3 166.8,237.8 168.2,238.2 169.7,238.7 171.1,239.2 172.5,239.6 174.0,240.1 175.4,240.5 176.9,241.0 178.3,241.4 179.8,241.9 181.2,242.3 182.7,242.8 184.1,243.2 185.5,243.7 187.0,244.1 188.4,244.6 189.9,245.0 191.3,245.5 192.8,245.9 194.2,246.4 195.7,246.8 197.1,247.3 198.6,247.7 200.0,248.2 201.5,248.6 202.9,249.1 204.4,249.5 205.8,250.0 207.3,250.4 208.7,250.9 210.2,251.3 211.6,251.8 213.1,252.2 214.5,252.6 216.0,253.1 217.4,253.5 218.9,254.0 220.3,254.4 221.8,254.9 223.2,255.3 224.7,255.7 226.1,256.2 227.6,256.6 229.0,257.0 230.5,257.5 231.9,257.9 233.4,258.3 234.8,258.7 236.3,259.1 237.7,259.5 239.2,260.0 240.7,260.4 242.1,260.8 243.6,261.2 245.0,261.6 246.5,261.9 247.9,262.3 249.4,262.7 250.9,263.1 252.3,263.5 253.8,263.8 255.3,264.2 256.7,264.6 258.2,264.9 259.7,265.3 261.1,265.6 262.6,265.9 264.1,266.3 265.5,266.6 267.0,266.9 268.5,267.2 270.0,267.6 271.4,267.9 272.9,268.1 274.4,268.4 275.9,268.7 277.3,269.0 278.8,269.3 280.3,269.5 281.8,269.8 283.3,270.0 284.8,270.3 286.2,270.5 287.7,270.7 289.2,270.9 290.7,271.2 292.2,271.4 293.7,271.5 295.2,271.7 296.7,271.9 298.2,272.1 299.7,272.2 301.2,272.4 302.7,272.5 304.2,272.6 305.7,272.8 307.2,272.9 308.7,273.0 310.2,273.1 311.7,273.1 313.3,273.2 314.8,273.3 316.3,273.3 317.8,273.4 319.3,273.4 320.9,273.4 322.4,273.4 323.9,273.4 325.4,273.4 327.0,273.4 328.5,273.3 330.0,273.3 330.1,273.1 328.5,273.2 327.0,273.3 325.5,273.3 323.9,273.4 322.4,273.5 320.9,273.5 319.3,273.5 317.8,273.5 316.3,273.5 314.8,273.5 313.3,273.5 311.7,273.5 310.2,273.4 308.7,273.4 307.2,273.3 305.7,273.2 304.2,273.1 302.7,273.0 301.2,272.9 299.7,272.8 298.2,272.6 296.7,272.5 295.2,272.3 293.7,272.2 292.2,272.0 290.7,271.8 289.2,271.6 287.7,271.4 286.2,271.2 284.8,271.0 283.3,270.8 281.8,270.5 280.3,270.3 278.8,270.0 277.3,269.8 275.9,269.5 274.4,269.2 272.9,269.0 271.4,268.7 270.0,268.4 268.5,268.1 267.0,267.8 265.5,267.5 264.1,267.1 262.6,266.8 261.1,266.5 259.7,266.1 258.2,265.8 256.7,265.4 255.3,265.1 253.8,264.7 252.3,264.3 250.9,264.0 249.4,263.6 248.0,263.2 246.5,262.8 245.0,262.5 243.6,262.1 242.1,261.7 240.7,261.3 239.2,260.9 237.7,260.5 236.3,260.1 234.8,259.6 233.4,259.2 231.9,258.8 230.5,258.4 229.0,258.0 227.6,257.6 226.1,257.1 224.7,256.7 223.2,256.3 221.8,255.8 220.3,255.4 218.8,255.0 217.4,254.6 215.9,254.1 214.5,253.7 213.0,253.3 211.6,252.8 210.1,252.4 208.7,252.0 207.2,251.5 205.8,251.1 204.3,250.7 202.9,250.2 201.4,249.8 200.0,249.4 198.5,249.0 197.1,248.5 195.6,248.1 194.2,247.7 192.7,247.3 191.3,246.9 189.8,246.4 188.3,246.0 186.9,245.6 185.4,245.2 184.0,244.8 182.5,244.4 181.1,244.0 179.6,243.6 178.2,243.1 176.7,242.7 175.3,242.3 173.8,241.9 172.3,241.5 170.9,241.1 169.4,240.7 168.0,240.3 166.5,239.9 165.1,239.5 163.6,239.1 162.2,238.7 160.7,238.3 159.3,237.9 157.8,237.5 156.3,237.1 154.9,236.7 153.4,236.3 152.0,235.8 150.5,235.4 149.1,235.0 147.6,234.6 146.2,234.2 144.7,233.8 143.3,233.4 141.8,233.0 140.4,232.6 138.9,232.2 137.5,231.8 136.0,231.4 134.6,231.0 133.1,230.6 131.7,230.1 130.2,229.7 128.8,229.3 127.3,228.9 125.9,228.5 124.4,228.1 123.0,227.6 121.5,227.2 120.1,226.8 118.6,226.4 117.2,226.0 115.7,225.5 114.3,225.1 112.8,224.7 111.4,224.2 109.9,223.8 108.5,223.4 107.0,222.9 105.6,222.5 104.1,222.1 102.7,221.6 101.3,221.2 99.8,220.7 98.4,220.3 96.9,219.8 95.5,219.4 94.1,218.9 92.6,218.5 91.2,218.0 89.7,217.6 88.3,217.1 86.9,216.6 85.4,216.2 84.0,215.7 82.5,215.2 81.1,214.7 79.7,214.3 78.2,213.8" fill="#ff00ff" stroke="none" />
<polygon points="78.2,72.3 79.7,72.7 81.2,73.1 82.7,73.6 84.1,74.1 85.6,74.6 87.0,75.1 88.5,75.6 89.9,76.2 91.3,76.8 92.6,77.4 94.0,78.0 95.4,78.7 96.7,79.4 98.1,80.1 99.4,80.8 100.7,81.5 102.0,82.2 103.3,83.0 104.6,83.8 105.9,84.6 107.1,85.4 108.4,86.2 109.6,87.0 110.9,87.9 112.1,88.7 113.3,89.6 114.5,90.5 115.7,91.4 117.0,92.3 118.1,93.2 119.3,94.2 120.5,95.1 121.7,96.0 122.9,97.0 124.0,98.0 125.2,98.9 126.4,99.9 127.5,100.9 128.7,101.9 129.8,102.9 131.0,103.9 132.1,104.9 133.2,105.9 134.4,106.9 135.5,107.9 136.7,108.9 137.8,109.9 138.9,110.9 140.1,111.9 141.2,112.9 142.3,113.9 143.5,114.9 144.6,115.9 145.7,116.9 146.9,117.9 148.0,118.9 149.2,119.9 150.3,120.9 151.4,121.9 152.6,122.9 153.7,123.9 154.9,124.9 156.0,125.9 157.1,126.9 158.2,127.9 159.4,128.9 160.5,129.9 161.6,130.9 162.7,131.9 163.8,132.9 164.9,134.0 166.0,135.0 167.1,136.1 168.1,137.1 169.2,138.2 170.3,139.3 171.3,140.3 172.4,141.4 173.5,142.5 174.5,143.6 175.6,144.6 176.6,145.7 177.7,146.8 178.8,147.9 179.9,148.9 180.9,150.0 182.0,151.0 183.1,152.1 184.2,153.1 185.4,154.1 186.5,155.1 187.6,156.1 188.7,157.1 189.9,158.2 191.0,159.2 192.2,160.2 193.3,161.2 194.4,162.2 195.6,163.2 196.7,164.2 197.9,165.2 199.0,166.2 200.1,167.2 201.3,168.2 202.4,169.2 203.5,170.2 204.6,171.2 205.7,172.3 206.8,173.3 207.9,174.3 209.0,175.4 210.1,176.4 211.2,177.5 212.3,178.5 213.3,179.6 214.4,180.7 215.5,181.7 216.5,182.8 217.6,183.9 218.6,185.0 219.7,186.1 220.7,187.1 221.7,188.2 222.8,189.3 223.8,190.4 224.8,191.5 225.9,192.6 226.9,193.7 227.9,194.9 228.9,196.0 229.9,197.1 231.0,198.2 232.0,199.3 233.0,200.4 234.0,201.6 235.0,202.7 236.0,203.8 237.0,204.9 238.0,206.1 239.0,207.2 240.0,208.3 241.0,209.4 242.0,210.6 243.0,211.7 244.0,212.8 245.0,214.0 246.0,215.1 247.0,216.2 248.0,217.4 249.1,218.5 250.1,219.6 251.1,220.7 252.1,221.9 253.1,223.0 254.1,224.1 255.1,225.3 256.1,226.4 257.1,227.5 258.2,228.6 259.2,229.7 260.2,230.9 261.2,232.0 262.2,233.1 263.3,234.2 264.3,235.3 265.4,236.4 266.4,237.5 267.4,238.6 268.5,239.7 269.5,240.8 270.6,241.9 271.7,243.0 272.7,244.1 273.8,245.1 274.9,246.2 276.0,247.3 277.1,248.3 278.1,249.4 279.2,250.4 280.4,251.4 281.5,252.5 282.6,253.5 283.7,254.5 284.9,255.5 286.0,256.5 287.2,257.4 288.3,258.4 289.5,259.4 290.7,260.3 291.9,261.2 293.1,262.1 294.3,263.0 295.5,263.9 296.7,264.7 298.0,265.5 299.3,266.2 300.6,266.9 302.0,267.6 303.3,268.2 304.7,268.7 306.1,269.3 307.5,269.7 309.0,270.2 310.4,270.6 311.9,270.9 313.4,271.3 314.8,271.6 316.3,271.8 317.8,272.1 319.4,272.3 320.9,272.4 322.4,272.6 323.9,272.7 325.5,272.8 327.0,272.9 328.5,272.9 330.1,273.0 330.0,273.0 328.5,273.1 327.0,273.1 325.5,273.1 324.0,273.0 322.5,273.0 320.9,272.9 319.4,272.8 317.9,272.7 316.4,272.5 314.9,272.3 313.3,272.1 311.9,271.8 310.4,271.5 308.9,271.2 307.4,270.8 306.0,270.4 304.6,269.9 303.2,269.4 301.8,268.8 300.5,268.2 299.1,267.5 297.9,266.8 296.6,266.0 295.3,265.2 294.1,264.3 292.9,263.5 291.7,262.5 290.5,261.6 289.4,260.6 288.2,259.7 287.0,258.7 285.9,257.7 284.8,256.7 283.6,255.7 282.5,254.7 281.4,253.7 280.2,252.7 279.1,251.7 278.0,250.6 276.9,249.6 275.8,248.6 274.7,247.5 273.6,246.5 272.5,245.4 271.4,244.4 270.4,243.3 269.3,242.3 268.2,241.2 267.1,240.1 266.1,239.1 265.0,238.0 263.9,236.9 262.9,235.8 261.8,234.8 260.7,233.7 259.7,232.6 258.6,231.5 257.6,230.4 256.5,229.4 255.5,228.3 254.4,227.2 253.4,226.1 252.4,225.0 251.3,223.9 250.3,222.8 249.2,221.8 248.2,220.7 247.2,219.6 246.1,218.5 245.1,217.4 244.0,216.3 243.0,215.2 242.0,214.1 240.9,213.0 239.9,211.9 238.9,210.9 237.8,209.8 236.8,208.7 235.7,207.6 234.7,206.5 233.7,205.4 232.6,204.3 231.6,203.3 230.5,202.2 229.5,201.1 228.4,200.0 227.4,198.9 226.3,197.8 225.3,196.8 224.2,195.7 223.2,194.6 222.1,193.5 221.1,192.5 220.0,191.4 219.0,190.3 217.9,189.3 216.8,188.2 215.7,187.2 214.7,186.1 213.6,185.0 212.5,184.0 211.4,182.9 210.3,181.9 209.3,180.8 208.2,179.8 207.1,178.8 206.0,177.7 204.9,176.7 203.7,175.7 202.6,174.6 201.5,173.6 200.4,172.6 199.3,171.6 198.2,170.6 197.0,169.6 195.9,168.6 194.8,167.5 193.6,166.6 192.5,165.6 191.3,164.6 190.2,163.6 189.0,162.6 187.9,161.6 186.7,160.6 185.6,159.7 184.4,158.7 183.2,157.8 182.1,156.8 180.9,155.8 179.7,154.9 178.6,154.0 177.4,153.0 176.2,152.1 175.0,151.2 173.8,150.2 172.7,149.3 171.5,148.4 170.3,147.5 169.1,146.6 167.9,145.7 166.7,144.8 165.5,143.9 164.3,143.0 163.1,142.2 161.9,141.3 160.6,140.4 159.4,139.6 158.2,138.7 156.9,137.9 155.7,137.1 154.4,136.2 153.2,135.4 151.9,134.6 150.7,133.8 149.4,133.0 148.1,132.2 146.8,131.5 145.5,130.7 144.2,129.9 142.9,129.2 141.6,128.4 140.2,127.7 138.9,127.0 137.5,126.3 136.2,125.6 134.8,124.9 133.4,124.2 132.1,123.6 130.7,122.9 129.3,122.3 127.9,121.7 126.5,121.1 125.0,120.5 123.6,120.0 122.2,119.4 120.8,118.9 119.3,118.5 117.9,118.0 116.4,117.6 115.0,117.2 113.5,116.8 112.1,116.5 110.6,116.2 109.1,115.9 107.7,115.6 106.2,115.4 104.7,115.2 103.2,115.1 101.8,115.0 100.3,114.9 98.8,114.9 97.3,114.9 95.8,115.0 94.4,115.1 92.9,115.2 91.4,115.4 89.9,115.6 88.4,115.9 87.0,116.2 85.5,116.6 84.0,117.0 82.5,117.5 81.1,118.0 79.6,118.6 78.1,119.2" fill="#ff0000" stroke="none" />
</g>
<g clip-path="url(#cr)">
<polygon points="506.9,16.3 507.2,17.8 507.4,19.3 507.7,20.8 508.0,22.3 508.4,23.8 508.7,25.3 509.0,26.7 509.4,28.2 509.8,29.7 510.1,31.2 510.5,32.6 510.9,34.1 511.3,35.6 511.7,37.0 512.1,38.5 512.5,39.9 512.9,41.4 513.4,42.9 513.8,44.3 514.2,45.8 514.7,47.2 515.1,48.6 515.6,50.1 516.0,51.5 516.5,53.0 516.9,54.4 517.4,55.9 517.8,57.3 518.3,58.7 518.8,60.2 519.2,61.6 519.7,63.0 520.2,64.5 520.6,65.9 521.1,67.3 521.5,68.8 522.0,70.2 522.4,71.6 522.9,73.1 523.3,74.5 523.7,75.9 524.2,77.4 524.6,78.8 525.0,80.3 525.4,81.7 525.9,83.1 526.3,84.6 526.6,86.0 527.0,87.5 527.4,88.9 527.8,90.4 528.1,91.8 528.4,93.3 528.8,94.8 529.1,96.2 529.4,97.7 529.7,99.2 530.0,100.7 530.3,102.1 530.6,103.6 530.9,105.1 531.2,106.6 531.6,108.1 531.9,109.5 532.3,111.0 532.7,112.5 533.1,113.9 533.5,115.4 533.9,116.8 534.4,118.3 534.8,119.7 535.3,121.2 535.8,122.6 536.3,124.0 536.8,125.4 537.3,126.8 537.9,128.2 538.4,129.7 539.0,131.1 539.5,132.5 540.1,133.9 540.6,135.3 541.2,136.7 541.8,138.1 542.3,139.5 542.9,140.9 543.5,142.3 544.1,143.7 544.7,145.0 545.3,146.4 545.9,147.8 546.5,149.2 547.1,150.6 547.7,152.0 548.3,153.3 548.9,154.7 549.5,156.1 550.2,157.5 550.8,158.9 551.4,160.2 552.1,161.6 552.7,163.0 553.3,164.3 554.0,165.7 554.6,167.1 555.3,168.4 555.9,169.8 556.6,171.2 557.2,172.5 557.9,173.9 558.5,175.3 559.2,176.6 559.8,178.0 560.5,179.3 561.2,180.7 561.8,182.0 562.5,183.4 563.2,184.7 563.8,186.1 564.5,187.4 565.2,188.8 565.9,190.1 566.5,191.5 567.2,192.8 567.9,194.1 568.6,195.5 569.3,196.8 570.0,198.1 570.7,199.5 571.4,200.8 572.1,202.1 572.8,203.5 573.6,204.8 574.3,206.1 575.0,207.4 575.8,208.8 576.5,210.1 577.3,211.4 578.0,212.7 578.8,214.0 579.6,215.3 580.3,216.6 581.1,218.0 581.9,219.2 582.7,220.5 583.6,221.8 584.4,223.1 585.2,224.4 586.1,225.7 586.9,226.9 587.8,228.2 588.7,229.4 589.6,230.7 590.5,231.9 591.4,233.1 592.3,234.3 593.2,235.6 594.2,236.8 595.1,238.0 596.1,239.1 597.1,240.3 598.1,241.5 599.1,242.6 600.1,243.8 601.1,244.9 602.1,246.0 603.2,247.1 604.2,248.2 605.3,249.3 606.4,250.4 607.5,251.4 608.6,252.5 609.8,253.5 610.9,254.5 612.1,255.5 613.3,256.5 614.5,257.4 615.7,258.3 616.9,259.2 618.2,260.1 619.5,261.0 620.7,261.9 622.0,262.7 623.3,263.5 624.7,264.2 626.0,264.9 627.4,265.6 628.8,266.3 630.2,267.0 631.6,267.6 633.0,268.1 634.4,268.7 635.8,269.2 637.3,269.7 638.7,270.2 640.2,270.6 641.7,271.0 643.2,271.3 644.7,271.6 646.2,271.9 647.7,272.2 649.2,272.4 650.7,272.6 652.3,272.7 653.8,272.9 655.3,273.0 656.9,273.1 658.4,273.1 660.0,273.2 661.5,273.2 663.0,273.3 664.6,273.3 666.1,273.3 667.6,273.4 669.1,273.4 670.6,273.4 672.1,273.5 673.5,273.5 675.0,273.6 675.0,272.8 673.6,272.7 672.1,272.6 670.6,272.6 669.1,272.5 667.6,272.4 666.1,272.4 664.6,272.3 663.1,272.2 661.5,272.2 660.0,272.1 658.5,272.0 657.0,271.9 655.4,271.7 653.9,271.6 652.4,271.4 650.9,271.2 649.4,270.9 647.9,270.7 646.5,270.4 645.0,270.0 643.6,269.7 642.2,269.2 640.8,268.7 639.4,268.2 638.0,267.7 636.6,267.1 635.3,266.5 634.0,265.9 632.7,265.2 631.4,264.5 630.1,263.8 628.8,263.1 627.6,262.3 626.3,261.5 625.1,260.6 623.9,259.8 622.7,259.0 621.5,258.1 620.3,257.2 619.2,256.3 618.0,255.4 616.9,254.4 615.7,253.5 614.6,252.5 613.5,251.5 612.4,250.6 611.3,249.6 610.2,248.5 609.2,247.5 608.1,246.5 607.1,245.4 606.1,244.4 605.0,243.3 604.0,242.2 603.0,241.1 602.1,240.0 601.1,238.9 600.1,237.7 599.2,236.6 598.2,235.4 597.3,234.3 596.4,233.1 595.5,231.9 594.6,230.7 593.7,229.5 592.8,228.3 592.0,227.1 591.1,225.9 590.2,224.6 589.4,223.4 588.6,222.2 587.7,220.9 586.9,219.7 586.1,218.4 585.3,217.1 584.5,215.9 583.7,214.6 582.9,213.3 582.1,212.0 581.3,210.8 580.5,209.5 579.8,208.2 579.0,206.9 578.3,205.6 577.5,204.3 576.8,203.0 576.0,201.7 575.3,200.4 574.6,199.1 573.8,197.8 573.1,196.5 572.4,195.2 571.7,193.8 571.0,192.5 570.3,191.2 569.6,189.9 568.9,188.6 568.2,187.2 567.5,185.9 566.8,184.6 566.1,183.2 565.4,181.9 564.7,180.6 564.0,179.2 563.3,177.9 562.6,176.6 561.9,175.2 561.2,173.9 560.6,172.6 559.9,171.2 559.2,169.9 558.5,168.5 557.8,167.2 557.1,165.9 556.5,164.5 555.8,163.2 555.1,161.8 554.5,160.5 553.8,159.1 553.1,157.8 552.5,156.4 551.8,155.0 551.2,153.7 550.5,152.3 549.9,151.0 549.3,149.6 548.6,148.2 548.0,146.9 547.4,145.5 546.8,144.1 546.1,142.8 545.5,141.4 544.9,140.0 544.3,138.6 543.7,137.2 543.1,135.9 542.5,134.5 542.0,133.1 541.4,131.7 540.8,130.3 540.3,128.9 539.7,127.5 539.2,126.1 538.7,124.7 538.2,123.3 537.7,121.9 537.2,120.5 536.7,119.1 536.3,117.7 535.8,116.3 535.4,114.8 535.0,113.4 534.6,112.0 534.3,110.5 533.9,109.1 533.6,107.6 533.3,106.1 533.0,104.7 532.7,103.2 532.5,101.7 532.2,100.2 531.9,98.8 531.7,97.3 531.4,95.8 531.1,94.3 530.8,92.8 530.5,91.3 530.2,89.8 529.9,88.4 529.5,86.9 529.2,85.4 528.9,83.9 528.5,82.4 528.1,81.0 527.8,79.5 527.4,78.0 527.0,76.6 526.6,75.1 526.2,73.7 525.8,72.2 525.4,70.8 525.0,69.3 524.5,67.9 524.1,66.4 523.7,65.0 523.2,63.5 522.8,62.1 522.4,60.6 521.9,59.2 521.5,57.7 521.0,56.3 520.6,54.8 520.2,53.4 519.7,52.0 519.3,50.5 518.8,49.1 518.4,47.6 518.0,46.2 517.5,44.8 517.1,43.3 516.7,41.9 516.2,40.4 515.8,39.0 515.4,37.6 515.0,36.1 514.6,34.7 514.2,33.2 513.9,31.8 513.5,30.3 513.1,28.9 512.8,27.4 512.4,26.0 512.1,24.5 511.8,23.0 511.5,21.6 511.2,20.1 510.9,18.6 510.6,17.2 510.3,15.7" fill="#5cd2d4" stroke="none" />
<polygon points="505.9,16.1 506.1,17.6 506.3,19.2 506.5,20.7 506.7,22.2 507.0,23.7 507.2,25.1 507.5,26.6 507.7,28.1 508.0,29.6 508.3,31.1 508.6,32.6 508.9,34.1 509.2,35.6 509.5,37.1 509.8,38.5 510.1,40.0 510.4,41.5 510.8,43.0 511.1,44.5 511.4,45.9 511.8,47.4 512.2,48.9 512.5,50.3 512.9,51.8 513.3,53.3 513.7,54.7 514.1,56.2 514.5,57.7 514.9,59.1 515.3,60.6 515.7,62.0 516.1,63.5 516.5,64.9 517.0,66.4 517.4,67.9 517.8,69.3 518.3,70.7 518.7,72.2 519.2,73.6 519.7,75.1 520.1,76.5 520.6,78.0 521.1,79.4 521.5,80.8 522.0,82.3 522.5,83.7 523.0,85.1 523.5,86.6 524.0,88.0 524.5,89.4 525.0,90.9 525.5,92.3 526.1,93.7 526.6,95.1 527.1,96.6 527.6,98.0 528.2,99.4 528.7,100.8 529.2,102.2 529.8,103.6 530.3,105.1 530.8,106.5 531.4,107.9 531.9,109.3 532.5,110.7 533.0,112.1 533.6,113.5 534.2,114.9 534.7,116.3 535.3,117.7 535.8,119.1 536.4,120.5 537.0,121.9 537.6,123.3 538.1,124.7 538.7,126.1 539.3,127.5 539.8,128.9 540.4,130.2 541.0,131.6 541.6,133.0 542.2,134.4 542.7,135.8 543.3,137.2 543.9,138.6 544.5,139.9 545.1,141.3 545.7,142.7 546.2,144.1 546.8,145.5 547.4,146.9 548.0,148.3 548.6,149.7 549.3,151.1 549.9,152.4 550.5,153.8 551.2,155.2 551.8,156.6 552.5,157.9 553.1,159.3 553.8,160.7 554.5,162.0 555.2,163.3 556.0,164.7 556.7,166.0 557.4,167.3 558.2,168.6 559.0,170.0 559.7,171.3 560.5,172.6 561.3,173.9 562.0,175.2 562.8,176.5 563.6,177.8 564.4,179.1 565.1,180.4 565.9,181.7 566.7,183.0 567.4,184.3 568.2,185.6 569.0,186.9 569.7,188.2 570.5,189.5 571.3,190.8 572.0,192.1 572.8,193.4 573.6,194.7 574.3,196.0 575.1,197.3 575.9,198.6 576.6,199.9 577.4,201.2 578.1,202.5 578.9,203.8 579.7,205.1 580.4,206.4 581.2,207.7 582.0,209.0 582.7,210.3 583.5,211.6 584.3,212.9 585.0,214.2 585.8,215.5 586.6,216.8 587.4,218.1 588.3,219.4 589.1,220.6 590.0,221.9 590.9,223.1 591.8,224.3 592.7,225.5 593.7,226.7 594.7,227.9 595.8,229.0 596.8,230.1 597.9,231.2 599.1,232.2 600.2,233.3 601.3,234.3 602.3,235.4 603.4,236.4 604.4,237.5 605.3,238.6 606.2,239.8 607.1,241.0 607.9,242.2 608.7,243.4 609.6,244.7 610.4,246.0 611.3,247.2 612.2,248.4 613.2,249.6 614.2,250.8 615.3,251.9 616.4,253.0 617.5,254.1 618.7,255.1 619.8,256.2 621.0,257.1 622.2,258.1 623.5,259.0 624.7,259.9 626.0,260.8 627.3,261.6 628.6,262.5 629.9,263.3 631.2,264.0 632.5,264.8 633.8,265.5 635.2,266.2 636.5,266.9 637.9,267.5 639.3,268.1 640.7,268.7 642.1,269.3 643.5,269.8 645.0,270.3 646.4,270.7 647.9,271.2 649.3,271.6 650.8,272.0 652.2,272.3 653.7,272.6 655.2,272.9 656.7,273.1 658.2,273.4 659.7,273.5 661.2,273.7 662.7,273.8 664.3,273.9 665.8,274.0 667.3,274.0 668.9,274.0 670.4,273.9 672.0,273.8 673.5,273.7 675.1,273.5 675.0,272.7 673.5,272.9 671.9,273.0 670.4,273.1 668.9,273.1 667.3,273.1 665.8,273.1 664.3,273.0 662.8,272.9 661.3,272.8 659.8,272.6 658.3,272.4 656.9,272.2 655.4,271.9 653.9,271.6 652.5,271.3 651.0,270.9 649.6,270.5 648.2,270.1 646.8,269.6 645.4,269.1 644.0,268.6 642.6,268.1 641.2,267.5 639.9,266.9 638.5,266.2 637.2,265.6 635.9,264.9 634.6,264.2 633.3,263.4 632.0,262.7 630.7,261.9 629.5,261.1 628.2,260.2 627.0,259.3 625.8,258.4 624.6,257.5 623.4,256.6 622.3,255.6 621.1,254.6 620.0,253.6 618.9,252.6 617.8,251.6 616.7,250.5 615.7,249.5 614.7,248.3 613.8,247.2 612.9,246.0 612.1,244.8 611.2,243.6 610.4,242.3 609.6,241.1 608.7,239.8 607.8,238.6 606.9,237.4 605.9,236.2 604.8,235.1 603.8,234.0 602.7,232.9 601.5,231.8 600.4,230.8 599.3,229.7 598.3,228.7 597.2,227.6 596.2,226.5 595.2,225.4 594.3,224.3 593.4,223.1 592.5,221.9 591.6,220.7 590.8,219.5 589.9,218.3 589.1,217.0 588.3,215.8 587.5,214.5 586.7,213.2 586.0,211.9 585.2,210.6 584.4,209.3 583.7,208.0 582.9,206.7 582.1,205.4 581.4,204.1 580.6,202.8 579.9,201.5 579.1,200.2 578.3,198.9 577.6,197.6 576.8,196.3 576.1,195.0 575.3,193.7 574.5,192.4 573.8,191.1 573.0,189.7 572.2,188.4 571.5,187.1 570.7,185.8 569.9,184.5 569.2,183.2 568.4,181.9 567.6,180.6 566.8,179.3 566.1,178.0 565.3,176.7 564.5,175.4 563.7,174.1 563.0,172.9 562.2,171.6 561.4,170.3 560.7,169.0 559.9,167.7 559.2,166.3 558.5,165.0 557.7,163.7 557.0,162.4 556.3,161.1 555.6,159.7 554.9,158.4 554.3,157.1 553.6,155.7 553.0,154.3 552.3,153.0 551.7,151.6 551.1,150.2 550.5,148.9 549.9,147.5 549.3,146.1 548.7,144.7 548.1,143.3 547.5,141.9 546.9,140.6 546.3,139.2 545.7,137.8 545.2,136.4 544.6,135.0 544.0,133.6 543.4,132.3 542.8,130.9 542.3,129.5 541.7,128.1 541.1,126.7 540.5,125.3 540.0,123.9 539.4,122.5 538.8,121.1 538.3,119.7 537.7,118.4 537.1,117.0 536.6,115.6 536.0,114.2 535.5,112.8 534.9,111.4 534.4,110.0 533.8,108.6 533.3,107.1 532.7,105.7 532.2,104.3 531.6,102.9 531.1,101.5 530.6,100.1 530.0,98.7 529.5,97.3 529.0,95.9 528.5,94.4 527.9,93.0 527.4,91.6 526.9,90.2 526.4,88.8 525.9,87.3 525.4,85.9 524.9,84.5 524.4,83.1 523.9,81.6 523.4,80.2 523.0,78.8 522.5,77.3 522.0,75.9 521.6,74.5 521.1,73.0 520.6,71.6 520.2,70.2 519.7,68.7 519.3,67.3 518.9,65.8 518.4,64.4 518.0,62.9 517.6,61.5 517.2,60.0 516.8,58.6 516.4,57.1 516.0,55.7 515.6,54.2 515.2,52.8 514.8,51.3 514.5,49.9 514.1,48.4 513.7,46.9 513.4,45.5 513.0,44.0 512.7,42.5 512.4,41.1 512.0,39.6 511.7,38.1 511.4,36.7 511.1,35.2 510.8,33.7 510.5,32.2 510.2,30.7 510.0,29.3 509.7,27.8 509.4,26.3 509.2,24.8 509.0,23.3 508.7,21.8 508.5,20.4 508.3,18.9 508.1,17.4 507.9,15.9" fill="#0000cd" stroke="none" />
<polygon points="424.7,268.1 426.2,267.9 427.7,267.7 429.2,267.5 430.7,267.3 432.2,267.1 433.7,266.9 435.2,266.7 436.7,266.4 438.2,266.2 439.7,266.0 441.2,265.8 442.7,265.6 444.2,265.4 445.7,265.1 447.2,264.9 448.6,264.7 450.1,264.4 451.6,264.2 453.1,263.9 454.6,263.7 456.1,263.4 457.6,263.2 459.0,262.9 460.5,262.7 462.0,262.4 463.5,262.1 465.0,261.8 466.4,261.5 467.9,261.3 469.4,261.0 470.9,260.7 472.3,260.3 473.8,260.0 475.3,259.7 476.8,259.4 478.2,259.0 479.7,258.7 481.2,258.4 482.6,258.0 484.1,257.6 485.6,257.3 487.1,256.9 488.5,256.5 490.0,256.1 491.5,255.7 492.9,255.3 494.4,254.9 495.8,254.4 497.3,254.0 498.7,253.6 500.2,253.1 501.6,252.6 503.1,252.2 504.5,251.7 506.0,251.2 507.4,250.7 508.8,250.2 510.3,249.6 511.7,249.1 513.1,248.5 514.5,248.0 515.9,247.4 517.3,246.8 518.7,246.2 520.1,245.6 521.5,245.0 522.9,244.4 524.2,243.7 525.6,243.1 526.9,242.4 528.3,241.7 529.6,241.0 531.0,240.3 532.3,239.6 533.6,238.8 534.9,238.1 536.2,237.3 537.5,236.5 538.8,235.8 540.1,235.0 541.4,234.1 542.6,233.3 543.9,232.5 545.1,231.6 546.4,230.8 547.6,229.9 548.9,229.0 550.1,228.2 551.3,227.3 552.5,226.4 553.7,225.5 555.0,224.5 556.2,223.6 557.4,222.7 558.6,221.8 559.8,220.9 561.0,219.9 562.2,219.0 563.4,218.0 564.5,217.0 565.7,216.1 566.9,215.1 568.0,214.1 569.2,213.1 570.3,212.1 571.5,211.1 572.6,210.1 573.7,209.1 574.9,208.0 576.0,207.0 577.1,205.9 578.1,204.9 579.2,203.8 580.3,202.8 581.4,201.7 582.4,200.6 583.4,199.5 584.5,198.4 585.5,197.3 586.5,196.2 587.5,195.1 588.5,193.9 589.5,192.8 590.5,191.7 591.4,190.6 592.4,189.4 593.4,188.3 594.4,187.2 595.4,186.1 596.4,185.0 597.4,183.9 598.4,182.8 599.4,181.7 600.5,180.6 601.5,179.5 602.6,178.4 603.7,177.4 604.8,176.3 605.9,175.3 607.1,174.3 608.2,173.3 609.4,172.3 610.6,171.3 611.8,170.5 613.0,169.6 614.3,168.8 615.5,168.1 616.8,167.5 618.0,167.0 619.3,166.6 620.6,166.3 621.8,166.0 623.1,165.9 624.4,165.9 625.7,166.0 627.0,166.2 628.2,166.5 629.5,167.0 630.7,167.6 631.9,168.3 633.1,169.1 634.2,170.0 635.2,171.0 636.2,172.1 637.1,173.3 638.0,174.5 638.8,175.7 639.5,177.0 640.2,178.3 640.9,179.7 641.5,181.1 642.0,182.5 642.6,183.9 643.1,185.3 643.7,186.7 644.2,188.2 644.8,189.6 645.3,191.0 645.9,192.4 646.5,193.8 647.1,195.2 647.7,196.6 648.3,197.9 648.9,199.3 649.5,200.7 650.0,202.1 650.6,203.4 651.1,204.8 651.6,206.2 652.1,207.6 652.6,209.1 653.0,210.5 653.5,211.9 653.9,213.3 654.3,214.8 654.7,216.2 655.2,217.7 655.6,219.1 655.9,220.6 656.3,222.0 656.7,223.5 657.1,225.0 657.5,226.4 657.8,227.9 658.2,229.4 658.6,230.9 659.0,232.3 659.3,233.8 659.7,235.3 660.1,236.7 660.5,238.2 660.9,239.7 661.3,241.1 661.7,242.6 662.1,244.0 662.5,245.5 663.0,246.9 663.4,248.4 663.9,249.8 664.4,251.2 664.9,252.6 665.4,254.1 665.9,255.5 666.5,256.9 667.1,258.3 667.6,259.6 668.3,261.0 668.9,262.4 669.6,263.7 670.2,265.1 671.0,266.4 671.7,267.7 672.5,269.0 673.3,270.3 674.1,271.6 675.0,272.9 675.4,272.6 674.6,271.3 673.8,270.0 673.0,268.7 672.2,267.4 671.5,266.1 670.8,264.8 670.1,263.5 669.4,262.1 668.8,260.8 668.2,259.4 667.6,258.0 667.1,256.6 666.5,255.2 666.0,253.8 665.5,252.4 665.0,251.0 664.5,249.6 664.1,248.2 663.6,246.7 663.2,245.3 662.8,243.8 662.4,242.4 662.0,240.9 661.6,239.5 661.2,238.0 660.8,236.5 660.4,235.1 660.1,233.6 659.7,232.1 659.3,230.7 659.0,229.2 658.6,227.7 658.3,226.2 657.9,224.8 657.6,223.3 657.2,221.8 656.8,220.4 656.4,218.9 656.0,217.4 655.7,216.0 655.3,214.5 654.8,213.1 654.4,211.6 654.0,210.2 653.5,208.7 653.1,207.3 652.6,205.9 652.1,204.5 651.6,203.1 651.1,201.6 650.5,200.2 650.0,198.9 649.4,197.5 648.9,196.1 648.3,194.7 647.8,193.3 647.2,191.9 646.7,190.5 646.2,189.1 645.7,187.6 645.2,186.2 644.8,184.7 644.3,183.3 643.8,181.8 643.2,180.3 642.7,178.9 642.1,177.4 641.4,176.0 640.7,174.6 639.9,173.2 639.0,171.9 638.1,170.6 637.1,169.3 636.0,168.1 634.8,167.0 633.5,166.0 632.2,165.1 630.8,164.3 629.3,163.6 627.8,163.1 626.2,162.7 624.6,162.4 622.9,162.4 621.3,162.5 619.8,162.8 618.3,163.2 616.8,163.8 615.3,164.4 613.9,165.2 612.5,166.0 611.2,166.9 609.9,167.8 608.6,168.8 607.4,169.8 606.2,170.9 605.0,171.9 603.8,173.0 602.7,174.1 601.6,175.2 600.5,176.3 599.4,177.4 598.3,178.5 597.3,179.7 596.3,180.8 595.3,181.9 594.3,183.1 593.3,184.2 592.3,185.3 591.3,186.5 590.3,187.6 589.3,188.7 588.4,189.9 587.4,191.0 586.4,192.1 585.4,193.2 584.5,194.4 583.5,195.5 582.5,196.6 581.5,197.7 580.5,198.7 579.4,199.8 578.4,200.9 577.4,202.0 576.3,203.0 575.2,204.1 574.2,205.1 573.1,206.1 572.0,207.2 570.9,208.2 569.8,209.2 568.7,210.2 567.5,211.2 566.4,212.2 565.3,213.2 564.1,214.2 563.0,215.1 561.8,216.1 560.6,217.1 559.5,218.0 558.3,219.0 557.1,219.9 555.9,220.9 554.8,221.8 553.6,222.7 552.4,223.6 551.2,224.5 550.0,225.4 548.8,226.3 547.5,227.2 546.3,228.1 545.1,229.0 543.9,229.8 542.7,230.7 541.4,231.5 540.2,232.3 538.9,233.1 537.7,233.9 536.4,234.7 535.1,235.5 533.9,236.3 532.6,237.0 531.3,237.8 530.0,238.5 528.7,239.2 527.3,239.9 526.0,240.6 524.7,241.2 523.3,241.9 522.0,242.5 520.6,243.2 519.3,243.8 517.9,244.4 516.5,245.0 515.2,245.6 513.8,246.2 512.4,246.7 511.0,247.3 509.6,247.8 508.2,248.4 506.8,248.9 505.3,249.4 503.9,249.9 502.5,250.4 501.1,250.8 499.6,251.3 498.2,251.8 496.8,252.2 495.3,252.7 493.9,253.1 492.4,253.5 491.0,253.9 489.5,254.3 488.1,254.7 486.6,255.1 485.1,255.5 483.7,255.9 482.2,256.3 480.8,256.6 479.3,257.0 477.8,257.3 476.4,257.7 474.9,258.0 473.4,258.3 472.0,258.6 470.5,259.0 469.0,259.3 467.6,259.6 466.1,259.9 464.6,260.2 463.2,260.5 461.7,260.7 460.2,261.0 458.7,261.3 457.3,261.6 455.8,261.8 454.3,262.1 452.8,262.3 451.4,262.6 449.9,262.8 448.4,263.1 446.9,263.3 445.4,263.6 443.9,263.8 442.5,264.0 441.0,264.2 439.5,264.5 438.0,264.7 436.5,264.9 435.0,265.1 433.5,265.3 432.0,265.5 430.5,265.8 429.0,266.0 427.5,266.2 426.0,266.4 424.5,266.6" fill="#0000ff" stroke="none" />
<polygon points="424.8,269.3 426.3,269.1 427.7,268.9 429.2,268.8 430.7,268.6 432.2,268.4 433.7,268.3 435.2,268.2 436.7,268.0 438.2,267.9 439.7,267.8 441.2,267.7 442.8,267.6 444.3,267.5 445.8,267.4 447.3,267.3 448.8,267.3 450.3,267.2 451.8,267.1 453.4,267.0 454.9,267.0 456.4,266.9 457.9,266.8 459.4,266.8 461.0,266.7 462.5,266.6 464.0,266.5 465.5,266.4 467.0,266.3 468.6,266.3 470.1,266.1 471.6,266.0 473.1,265.9 474.6,265.8 476.1,265.7 477.7,265.5 479.2,265.4 480.7,265.2 482.2,265.0 483.7,264.8 485.2,264.6 486.7,264.4 488.2,264.2 489.7,264.0 491.2,263.7 492.7,263.5 494.2,263.3 495.7,263.0 497.1,262.8 498.6,262.5 500.1,262.2 501.6,262.0 503.1,261.7 504.6,261.5 506.1,261.2 507.6,261.0 509.1,260.8 510.6,260.5 512.1,260.3 513.6,260.1 515.1,259.9 516.6,259.7 518.1,259.5 519.6,259.3 521.1,259.1 522.6,258.9 524.1,258.7 525.7,258.5 527.2,258.3 528.7,258.1 530.2,257.8 531.7,257.6 533.3,257.4 534.8,257.1 536.3,256.9 537.8,256.6 539.3,256.3 540.8,256.0 542.3,255.7 543.8,255.4 545.3,255.1 546.8,254.7 548.3,254.3 549.8,253.9 551.2,253.5 552.7,253.0 554.2,252.5 555.6,252.0 557.1,251.5 558.5,250.9 560.0,250.3 561.4,249.7 562.8,249.0 564.1,248.3 565.5,247.6 566.9,246.9 568.2,246.1 569.6,245.3 570.9,244.6 572.2,243.8 573.5,243.0 574.8,242.2 576.1,241.3 577.4,240.5 578.7,239.7 580.0,238.9 581.3,238.1 582.6,237.3 583.9,236.5 585.1,235.7 586.4,235.0 587.7,234.2 589.0,233.5 590.3,232.8 591.6,232.1 592.9,231.4 594.2,230.8 595.6,230.2 596.9,229.6 598.2,229.0 599.6,228.5 601.0,228.0 602.4,227.5 603.8,227.0 605.2,226.6 606.7,226.2 608.2,225.8 609.7,225.5 611.1,225.3 612.6,225.0 614.1,224.9 615.5,224.8 617.0,224.7 618.4,224.7 619.8,224.7 621.2,224.8 622.6,225.0 623.9,225.2 625.2,225.5 626.4,225.9 627.6,226.4 628.8,227.0 630.0,227.6 631.1,228.3 632.3,229.1 633.4,229.9 634.5,230.8 635.6,231.7 636.6,232.7 637.7,233.8 638.7,234.8 639.8,236.0 640.8,237.1 641.7,238.3 642.7,239.5 643.7,240.7 644.6,241.9 645.5,243.2 646.4,244.4 647.3,245.6 648.2,246.9 649.0,248.1 649.9,249.4 650.7,250.6 651.6,251.9 652.4,253.1 653.2,254.4 654.0,255.7 654.8,257.0 655.6,258.2 656.4,259.5 657.3,260.8 658.1,262.1 659.0,263.4 659.9,264.6 660.9,265.8 661.8,266.9 662.9,268.1 663.9,269.1 665.1,270.1 666.3,271.1 667.5,271.9 668.8,272.7 670.2,273.4 671.7,274.0 672.1,273.0 670.7,272.4 669.4,271.7 668.2,270.9 667.0,270.1 665.9,269.2 664.8,268.2 663.8,267.1 662.9,266.0 662.0,264.9 661.1,263.7 660.2,262.5 659.4,261.3 658.6,260.0 657.8,258.7 657.0,257.4 656.2,256.1 655.4,254.8 654.6,253.5 653.9,252.2 653.1,250.9 652.3,249.6 651.5,248.3 650.7,247.0 649.9,245.7 649.1,244.4 648.3,243.1 647.5,241.8 646.6,240.5 645.8,239.2 644.9,237.9 644.0,236.6 643.1,235.3 642.1,234.0 641.2,232.7 640.1,231.5 639.1,230.3 638.0,229.2 636.9,228.1 635.8,227.0 634.5,226.0 633.3,225.1 632.0,224.2 630.7,223.5 629.3,222.7 627.8,222.1 626.3,221.6 624.8,221.2 623.3,220.8 621.7,220.6 620.1,220.4 618.5,220.3 616.9,220.3 615.3,220.4 613.7,220.5 612.0,220.7 610.4,220.9 608.8,221.2 607.2,221.6 605.6,221.9 604.1,222.3 602.5,222.8 601.0,223.3 599.5,223.8 598.0,224.3 596.6,224.8 595.1,225.4 593.7,226.0 592.3,226.6 590.9,227.3 589.5,227.9 588.1,228.6 586.8,229.4 585.4,230.1 584.1,230.9 582.7,231.7 581.4,232.4 580.1,233.2 578.8,234.0 577.5,234.8 576.2,235.7 574.9,236.5 573.6,237.3 572.3,238.1 571.0,238.9 569.7,239.7 568.4,240.4 567.1,241.2 565.8,241.9 564.5,242.7 563.2,243.4 561.9,244.1 560.6,244.7 559.3,245.4 558.0,246.0 556.7,246.6 555.3,247.1 554.0,247.7 552.6,248.2 551.3,248.7 549.9,249.2 548.5,249.6 547.1,250.0 545.7,250.5 544.2,250.8 542.8,251.2 541.4,251.6 539.9,251.9 538.5,252.3 537.0,252.6 535.5,252.9 534.1,253.2 532.6,253.4 531.1,253.7 529.6,254.0 528.1,254.2 526.6,254.5 525.1,254.7 523.6,255.0 522.1,255.2 520.6,255.4 519.1,255.7 517.6,255.9 516.0,256.2 514.5,256.4 513.0,256.7 511.5,256.9 510.0,257.2 508.5,257.4 507.0,257.7 505.5,258.0 504.0,258.3 502.5,258.6 501.0,258.8 499.6,259.1 498.1,259.4 496.6,259.7 495.1,260.0 493.6,260.2 492.2,260.5 490.7,260.8 489.2,261.1 487.7,261.3 486.3,261.5 484.8,261.8 483.3,262.0 481.8,262.2 480.3,262.4 478.9,262.6 477.4,262.8 475.9,262.9 474.4,263.1 472.9,263.2 471.4,263.3 469.9,263.5 468.4,263.6 466.9,263.7 465.4,263.8 463.8,263.9 462.3,264.0 460.8,264.1 459.3,264.2 457.8,264.2 456.3,264.3 454.8,264.4 453.2,264.5 451.7,264.6 450.2,264.7 448.7,264.8 447.2,264.8 445.6,264.9 444.1,265.0 442.6,265.1 441.1,265.2 439.6,265.3 438.0,265.4 436.5,265.5 435.0,265.7 433.5,265.8 432.0,266.0 430.5,266.1 428.9,266.3 427.4,266.5 425.9,266.7 424.4,266.9" fill="#00ff00" stroke="none" />
<polygon points="503.4,16.4 503.8,17.9 504.1,19.4 504.5,20.8 504.9,22.3 505.3,23.7 505.7,25.2 506.1,26.7 506.5,28.1 506.9,29.6 507.3,31.0 507.6,32.5 508.0,33.9 508.5,35.4 508.9,36.9 509.3,38.3 509.7,39.8 510.1,41.2 510.5,42.7 510.9,44.1 511.3,45.6 511.8,47.0 512.2,48.5 512.6,49.9 513.0,51.4 513.5,52.8 513.9,54.3 514.4,55.7 514.8,57.2 515.2,58.6 515.7,60.1 516.2,61.5 516.6,62.9 517.1,64.4 517.5,65.8 518.0,67.3 518.5,68.7 518.9,70.1 519.4,71.6 519.9,73.0 520.4,74.5 520.8,75.9 521.3,77.3 521.8,78.8 522.3,80.2 522.8,81.6 523.3,83.1 523.8,84.5 524.3,85.9 524.8,87.3 525.3,88.8 525.8,90.2 526.3,91.6 526.8,93.0 527.4,94.5 527.9,95.9 528.4,97.3 529.0,98.7 529.5,100.1 530.1,101.5 530.6,102.9 531.2,104.3 531.7,105.7 532.3,107.1 532.9,108.5 533.5,109.9 534.0,111.3 534.6,112.7 535.2,114.1 535.8,115.5 536.3,116.9 536.9,118.3 537.5,119.7 538.1,121.1 538.7,122.5 539.3,123.9 539.9,125.3 540.5,126.7 541.1,128.0 541.7,129.4 542.3,130.8 542.9,132.2 543.5,133.6 544.1,134.9 544.8,136.3 545.4,137.7 546.1,139.0 546.7,140.4 547.3,141.8 548.0,143.1 548.6,144.5 549.3,145.9 549.9,147.2 550.6,148.6 551.3,149.9 551.9,151.3 552.6,152.6 553.3,154.0 553.9,155.3 554.6,156.7 555.3,158.0 556.0,159.4 556.7,160.7 557.4,162.1 558.1,163.4 558.8,164.7 559.5,166.1 560.2,167.4 561.0,168.7 561.7,170.0 562.4,171.4 563.2,172.7 563.9,174.0 564.6,175.3 565.4,176.6 566.1,178.0 566.9,179.3 567.7,180.6 568.4,181.9 569.2,183.2 570.0,184.5 570.8,185.8 571.5,187.1 572.3,188.4 573.1,189.7 573.9,191.0 574.7,192.2 575.5,193.5 576.3,194.8 577.1,196.1 577.9,197.4 578.7,198.7 579.5,199.9 580.3,201.2 581.1,202.5 581.9,203.8 582.7,205.1 583.5,206.3 584.3,207.6 585.1,208.9 585.9,210.2 586.7,211.4 587.5,212.7 588.3,214.0 589.1,215.2 590.0,216.5 590.8,217.8 591.7,219.0 592.6,220.2 593.6,221.4 594.5,222.6 595.5,223.8 596.5,224.9 597.6,226.0 598.6,227.1 599.7,228.2 600.7,229.3 601.8,230.4 602.8,231.5 603.9,232.5 605.0,233.6 606.0,234.7 607.1,235.8 608.1,236.8 609.2,237.9 610.2,239.0 611.2,240.1 612.2,241.2 613.2,242.3 614.2,243.4 615.2,244.6 616.2,245.7 617.2,246.8 618.2,247.9 619.3,249.0 620.3,250.2 621.3,251.3 622.3,252.4 623.4,253.5 624.5,254.6 625.5,255.6 626.7,256.7 627.8,257.7 629.0,258.7 630.1,259.7 631.3,260.7 632.5,261.7 633.8,262.6 635.0,263.5 636.3,264.4 637.5,265.2 638.8,266.0 640.2,266.8 641.5,267.6 642.8,268.3 644.2,268.9 645.6,269.6 647.0,270.1 648.4,270.7 649.9,271.2 651.3,271.6 652.8,272.0 654.3,272.3 655.7,272.6 657.2,272.9 658.8,273.1 660.3,273.3 661.8,273.4 663.3,273.5 664.9,273.6 666.4,273.6 667.9,273.7 669.5,273.7 671.0,273.7 672.5,273.7 674.0,273.7 675.5,273.6 677.0,273.6 678.5,273.6 680.0,273.6 680.0,272.8 678.5,272.8 677.0,272.8 675.5,272.8 674.0,272.8 672.5,272.8 671.0,272.8 669.5,272.8 667.9,272.8 666.4,272.7 664.9,272.7 663.4,272.6 661.9,272.4 660.4,272.2 658.9,272.0 657.4,271.8 656.0,271.5 654.5,271.2 653.1,270.8 651.7,270.4 650.3,269.9 648.9,269.4 647.5,268.9 646.2,268.3 644.9,267.6 643.6,266.9 642.3,266.2 641.0,265.4 639.7,264.6 638.5,263.8 637.3,262.9 636.1,262.0 634.9,261.1 633.7,260.2 632.6,259.2 631.4,258.2 630.3,257.2 629.2,256.2 628.2,255.1 627.1,254.1 626.0,253.0 625.0,251.9 624.0,250.8 623.0,249.7 622.0,248.6 621.0,247.5 620.0,246.4 619.0,245.3 618.0,244.1 617.0,243.0 616.0,241.9 615.0,240.7 614.0,239.6 613.0,238.5 612.0,237.4 610.9,236.3 609.9,235.2 608.8,234.1 607.8,233.0 606.7,231.9 605.7,230.8 604.6,229.7 603.6,228.6 602.5,227.6 601.5,226.5 600.5,225.4 599.4,224.3 598.4,223.2 597.5,222.1 596.5,220.9 595.6,219.8 594.7,218.7 593.8,217.5 593.0,216.3 592.1,215.1 591.3,213.8 590.5,212.6 589.7,211.3 588.9,210.0 588.1,208.8 587.3,207.5 586.5,206.2 585.7,204.9 584.9,203.7 584.1,202.4 583.3,201.1 582.5,199.8 581.7,198.6 580.9,197.3 580.1,196.0 579.3,194.7 578.5,193.4 577.7,192.2 576.9,190.9 576.1,189.6 575.3,188.3 574.5,187.0 573.8,185.7 573.0,184.4 572.2,183.1 571.4,181.9 570.7,180.6 569.9,179.3 569.1,178.0 568.4,176.7 567.6,175.4 566.9,174.1 566.1,172.7 565.4,171.4 564.7,170.1 563.9,168.8 563.2,167.5 562.5,166.2 561.7,164.9 561.0,163.5 560.3,162.2 559.6,160.9 558.9,159.6 558.2,158.2 557.5,156.9 556.8,155.6 556.1,154.2 555.5,152.9 554.8,151.5 554.1,150.2 553.4,148.9 552.8,147.5 552.1,146.2 551.5,144.8 550.8,143.5 550.2,142.1 549.5,140.7 548.9,139.4 548.3,138.0 547.6,136.6 547.0,135.3 546.4,133.9 545.8,132.5 545.2,131.2 544.6,129.8 544.0,128.4 543.4,127.0 542.8,125.6 542.2,124.3 541.6,122.9 541.0,121.5 540.4,120.1 539.9,118.7 539.3,117.3 538.7,115.9 538.1,114.5 537.6,113.2 537.0,111.8 536.5,110.3 535.9,108.9 535.4,107.5 534.9,106.1 534.4,104.7 533.8,103.3 533.3,101.9 532.8,100.5 532.3,99.1 531.8,97.6 531.3,96.2 530.8,94.8 530.3,93.4 529.8,92.0 529.3,90.6 528.7,89.1 528.2,87.7 527.8,86.3 527.3,84.9 526.8,83.4 526.3,82.0 525.8,80.6 525.3,79.2 524.8,77.7 524.4,76.3 523.9,74.9 523.4,73.4 522.9,72.0 522.5,70.6 522.0,69.1 521.6,67.7 521.1,66.3 520.7,64.8 520.2,63.4 519.8,62.0 519.3,60.5 518.9,59.1 518.5,57.6 518.0,56.2 517.6,54.7 517.2,53.3 516.7,51.9 516.3,50.4 515.9,49.0 515.5,47.5 515.0,46.1 514.6,44.6 514.2,43.2 513.8,41.7 513.4,40.3 513.0,38.8 512.6,37.4 512.2,35.9 511.8,34.5 511.4,33.0 511.0,31.6 510.6,30.1 510.2,28.7 509.8,27.2 509.4,25.8 509.0,24.3 508.7,22.9 508.3,21.4 507.9,19.9 507.5,18.5 507.2,17.0 506.8,15.6" fill="#33cc33" stroke="none" />
<polygon points="486.4,16.2 486.7,17.7 487.0,19.2 487.3,20.6 487.7,22.1 488.0,23.6 488.3,25.1 488.7,26.6 489.0,28.0 489.4,29.5 489.7,31.0 490.1,32.4 490.5,33.9 490.8,35.4 491.2,36.8 491.6,38.3 492.0,39.7 492.4,41.2 492.8,42.7 493.2,44.1 493.6,45.6 494.0,47.0 494.4,48.5 494.9,49.9 495.3,51.4 495.7,52.8 496.1,54.3 496.6,55.7 497.0,57.2 497.4,58.6 497.9,60.0 498.3,61.5 498.8,62.9 499.2,64.4 499.7,65.8 500.1,67.3 500.5,68.7 501.0,70.1 501.4,71.6 501.9,73.0 502.4,74.5 502.8,75.9 503.3,77.3 503.7,78.8 504.2,80.2 504.7,81.6 505.1,83.1 505.6,84.5 506.0,85.9 506.5,87.4 507.0,88.8 507.4,90.2 507.9,91.7 508.4,93.1 508.8,94.5 509.3,96.0 509.8,97.4 510.2,98.8 510.7,100.3 511.2,101.7 511.6,103.1 512.1,104.6 512.6,106.0 513.1,107.4 513.6,108.9 514.0,110.3 514.5,111.7 515.0,113.1 515.5,114.6 516.0,116.0 516.5,117.4 517.0,118.8 517.5,120.3 518.0,121.7 518.5,123.1 519.0,124.5 519.5,125.9 520.1,127.4 520.6,128.8 521.1,130.2 521.6,131.6 522.2,133.0 522.7,134.4 523.3,135.8 523.8,137.2 524.4,138.6 524.9,140.0 525.5,141.5 526.0,142.9 526.6,144.3 527.2,145.6 527.8,147.0 528.3,148.4 528.9,149.8 529.5,151.2 530.1,152.6 530.7,154.0 531.3,155.4 531.9,156.8 532.5,158.1 533.2,159.5 533.8,160.9 534.4,162.3 535.1,163.6 535.7,165.0 536.4,166.4 537.1,167.7 537.8,169.1 538.4,170.4 539.1,171.8 539.8,173.1 540.5,174.5 541.2,175.8 541.9,177.2 542.6,178.5 543.4,179.8 544.1,181.2 544.8,182.5 545.5,183.8 546.2,185.1 547.0,186.4 547.7,187.8 548.4,189.1 549.1,190.4 549.8,191.7 550.6,193.0 551.3,194.3 552.0,195.6 552.8,196.9 553.5,198.2 554.3,199.5 555.0,200.8 555.8,202.1 556.5,203.4 557.3,204.7 558.1,206.0 558.8,207.3 559.6,208.6 560.4,209.8 561.2,211.1 562.0,212.4 562.8,213.7 563.6,215.0 564.4,216.3 565.3,217.5 566.1,218.8 567.0,220.1 567.9,221.3 568.7,222.6 569.6,223.8 570.5,225.1 571.4,226.3 572.3,227.5 573.3,228.7 574.2,229.9 575.2,231.1 576.1,232.3 577.1,233.4 578.1,234.6 579.1,235.7 580.1,236.9 581.1,238.0 582.2,239.1 583.2,240.2 584.3,241.3 585.3,242.3 586.4,243.4 587.5,244.4 588.6,245.5 589.7,246.5 590.9,247.5 592.0,248.5 593.2,249.4 594.3,250.4 595.5,251.3 596.7,252.2 597.9,253.1 599.1,254.0 600.4,254.8 601.6,255.7 602.9,256.5 604.2,257.3 605.4,258.0 606.7,258.8 608.1,259.5 609.4,260.3 610.7,261.0 612.1,261.6 613.4,262.3 614.8,262.9 616.2,263.6 617.6,264.2 619.0,264.7 620.4,265.3 621.8,265.8 623.2,266.3 624.7,266.8 626.1,267.3 627.6,267.8 629.0,268.2 630.5,268.7 631.9,269.1 633.4,269.5 634.9,269.9 636.4,270.2 637.9,270.6 639.3,270.9 640.8,271.2 642.3,271.5 643.8,271.8 645.3,272.0 646.8,272.3 648.4,272.5 649.9,272.7 651.4,272.9 652.9,273.1 654.4,273.3 655.9,273.4 657.4,273.5 659.0,273.6 660.5,273.7 662.0,273.8 663.5,273.9 665.0,273.9 666.5,273.9 668.0,274.0 669.5,273.9 671.0,273.9 672.5,273.9 674.0,273.8 675.5,273.8 677.0,273.7 678.5,273.6 680.0,273.5 679.9,272.6 678.4,272.7 677.0,272.8 675.5,272.9 674.0,272.9 672.5,273.0 671.0,273.0 669.5,273.0 668.0,273.1 666.5,273.0 665.0,273.0 663.5,273.0 662.0,272.9 660.5,272.8 659.0,272.7 657.5,272.6 656.0,272.5 654.5,272.4 653.0,272.2 651.5,272.0 650.0,271.8 648.5,271.6 647.0,271.4 645.5,271.2 644.0,270.9 642.5,270.6 641.0,270.3 639.5,270.0 638.1,269.7 636.6,269.3 635.1,269.0 633.6,268.6 632.2,268.2 630.7,267.8 629.3,267.3 627.8,266.9 626.4,266.4 625.0,265.9 623.6,265.4 622.2,264.8 620.8,264.3 619.4,263.7 618.0,263.1 616.6,262.5 615.3,261.9 613.9,261.3 612.6,260.6 611.2,260.0 609.9,259.3 608.6,258.6 607.3,257.8 606.0,257.1 604.7,256.3 603.5,255.5 602.2,254.7 601.0,253.9 599.8,253.1 598.5,252.2 597.4,251.3 596.2,250.4 595.0,249.5 593.8,248.6 592.7,247.6 591.6,246.6 590.5,245.7 589.4,244.7 588.3,243.6 587.2,242.6 586.1,241.6 585.1,240.5 584.0,239.4 583.0,238.3 582.0,237.2 581.0,236.1 580.0,235.0 579.0,233.8 578.1,232.7 577.1,231.5 576.2,230.3 575.2,229.1 574.3,227.9 573.4,226.7 572.5,225.5 571.6,224.3 570.7,223.1 569.8,221.8 568.9,220.6 568.1,219.3 567.2,218.1 566.4,216.8 565.5,215.6 564.7,214.3 563.9,213.0 563.1,211.7 562.3,210.5 561.5,209.2 560.7,207.9 559.9,206.6 559.2,205.3 558.4,204.0 557.7,202.7 556.9,201.4 556.2,200.1 555.5,198.8 554.8,197.5 554.1,196.2 553.4,194.8 552.7,193.5 552.0,192.2 551.3,190.9 550.6,189.6 549.9,188.3 549.2,186.9 548.4,185.6 547.7,184.3 547.0,183.0 546.3,181.7 545.6,180.3 544.9,179.0 544.1,177.7 543.4,176.4 542.7,175.0 542.0,173.7 541.3,172.3 540.6,171.0 540.0,169.7 539.3,168.3 538.6,167.0 537.9,165.6 537.3,164.3 536.6,162.9 536.0,161.5 535.3,160.2 534.7,158.8 534.1,157.4 533.5,156.1 532.9,154.7 532.3,153.3 531.7,151.9 531.1,150.6 530.5,149.2 529.9,147.8 529.3,146.4 528.8,145.0 528.2,143.6 527.6,142.2 527.1,140.8 526.5,139.4 525.9,138.0 525.4,136.6 524.9,135.2 524.3,133.8 523.8,132.4 523.2,131.0 522.7,129.6 522.2,128.2 521.7,126.8 521.1,125.4 520.6,123.9 520.1,122.5 519.6,121.1 519.1,119.7 518.6,118.3 518.1,116.9 517.6,115.4 517.1,114.0 516.6,112.6 516.1,111.2 515.6,109.7 515.2,108.3 514.7,106.9 514.2,105.5 513.7,104.0 513.3,102.6 512.8,101.2 512.3,99.7 511.9,98.3 511.4,96.9 510.9,95.5 510.5,94.0 510.0,92.6 509.6,91.1 509.1,89.7 508.7,88.3 508.2,86.8 507.8,85.4 507.3,84.0 506.9,82.5 506.4,81.1 506.0,79.6 505.6,78.2 505.1,76.7 504.7,75.3 504.2,73.9 503.8,72.4 503.4,71.0 502.9,69.5 502.5,68.1 502.0,66.7 501.6,65.2 501.1,63.8 500.7,62.3 500.2,60.9 499.8,59.5 499.4,58.0 498.9,56.6 498.5,55.1 498.1,53.7 497.6,52.3 497.2,50.8 496.8,49.4 496.4,47.9 495.9,46.5 495.5,45.0 495.1,43.6 494.7,42.1 494.3,40.7 493.9,39.2 493.5,37.8 493.2,36.3 492.8,34.9 492.4,33.4 492.0,31.9 491.7,30.5 491.3,29.0 491.0,27.6 490.6,26.1 490.3,24.6 489.9,23.2 489.6,21.7 489.3,20.2 489.0,18.8 488.7,17.3 488.4,15.8" fill="#ff00ff" stroke="none" />
<polygon points="469.0,16.2 469.3,17.7 469.6,19.1 469.9,20.6 470.2,22.1 470.6,23.5 470.9,25.0 471.2,26.5 471.6,28.0 471.9,29.4 472.2,30.9 472.6,32.4 472.9,33.8 473.3,35.3 473.6,36.8 474.0,38.2 474.3,39.7 474.7,41.2 475.1,42.6 475.4,44.1 475.8,45.5 476.2,47.0 476.6,48.5 476.9,49.9 477.3,51.4 477.7,52.8 478.1,54.3 478.5,55.8 478.9,57.2 479.3,58.7 479.7,60.1 480.1,61.6 480.5,63.0 480.9,64.5 481.3,65.9 481.8,67.4 482.2,68.8 482.6,70.3 483.0,71.7 483.5,73.2 483.9,74.6 484.3,76.1 484.8,77.5 485.2,78.9 485.7,80.4 486.1,81.8 486.6,83.3 487.1,84.7 487.5,86.1 488.0,87.6 488.5,89.0 488.9,90.4 489.4,91.9 489.9,93.3 490.4,94.7 490.8,96.1 491.3,97.6 491.8,99.0 492.3,100.4 492.8,101.9 493.3,103.3 493.8,104.7 494.3,106.1 494.8,107.5 495.3,109.0 495.9,110.4 496.4,111.8 496.9,113.2 497.4,114.6 497.9,116.0 498.4,117.5 499.0,118.9 499.5,120.3 500.0,121.7 500.6,123.1 501.1,124.5 501.6,125.9 502.2,127.3 502.7,128.7 503.3,130.1 503.8,131.5 504.4,132.9 504.9,134.3 505.5,135.7 506.1,137.1 506.6,138.5 507.2,139.9 507.8,141.3 508.3,142.7 508.9,144.1 509.5,145.5 510.1,146.9 510.7,148.3 511.3,149.7 511.8,151.1 512.4,152.4 513.1,153.8 513.7,155.2 514.3,156.6 514.9,157.9 515.5,159.3 516.2,160.7 516.8,162.0 517.4,163.4 518.1,164.8 518.7,166.1 519.4,167.5 520.1,168.8 520.7,170.2 521.4,171.5 522.1,172.9 522.8,174.2 523.5,175.5 524.2,176.9 524.9,178.2 525.7,179.5 526.4,180.8 527.1,182.1 527.9,183.5 528.6,184.8 529.4,186.1 530.1,187.4 530.9,188.7 531.7,190.0 532.4,191.3 533.2,192.6 534.0,193.9 534.8,195.2 535.6,196.4 536.3,197.7 537.1,199.0 537.9,200.3 538.7,201.6 539.5,202.9 540.3,204.2 541.1,205.4 541.9,206.7 542.7,208.0 543.5,209.2 544.3,210.5 545.1,211.8 545.9,213.0 546.8,214.3 547.6,215.5 548.4,216.8 549.3,218.0 550.1,219.3 551.0,220.5 551.9,221.7 552.7,222.9 553.6,224.1 554.6,225.3 555.5,226.5 556.4,227.7 557.4,228.8 558.4,230.0 559.4,231.1 560.4,232.2 561.4,233.4 562.4,234.5 563.4,235.6 564.5,236.7 565.5,237.7 566.6,238.8 567.7,239.9 568.8,240.9 569.9,242.0 571.0,243.0 572.2,244.0 573.3,245.0 574.5,246.0 575.7,247.0 576.8,248.0 578.0,248.9 579.2,249.9 580.4,250.8 581.7,251.7 582.9,252.6 584.2,253.5 585.4,254.3 586.7,255.2 588.0,256.0 589.3,256.8 590.6,257.5 591.9,258.3 593.2,259.0 594.5,259.7 595.9,260.4 597.2,261.1 598.6,261.7 599.9,262.3 601.3,262.9 602.7,263.5 604.1,264.0 605.5,264.6 606.9,265.1 608.3,265.6 609.7,266.1 611.2,266.5 612.6,267.0 614.0,267.4 615.5,267.8 617.0,268.2 618.4,268.6 619.9,269.0 621.3,269.3 622.8,269.6 624.3,270.0 625.8,270.3 627.3,270.6 628.7,270.8 630.2,271.1 631.7,271.3 633.2,271.6 634.7,271.8 636.2,272.0 637.7,272.2 639.3,272.4 640.8,272.5 642.3,272.7 643.8,272.8 645.3,273.0 646.8,273.1 648.3,273.2 649.9,273.3 651.4,273.4 652.9,273.5 654.4,273.5 655.9,273.6 657.5,273.7 659.0,273.7 660.5,273.7 662.0,273.8 663.5,273.8 665.0,273.8 666.5,273.8 668.0,273.8 669.5,273.8 671.0,273.8 672.5,273.7 674.0,273.7 675.5,273.7 677.0,273.6 678.5,273.6 680.0,273.5 680.0,272.7 678.5,272.8 677.0,272.8 675.5,272.9 674.0,272.9 672.5,272.9 671.0,273.0 669.5,273.0 668.0,273.0 666.5,273.0 665.0,273.0 663.5,273.0 662.0,273.0 660.5,272.9 659.0,272.9 657.5,272.9 656.0,272.8 654.5,272.7 652.9,272.7 651.4,272.6 649.9,272.5 648.4,272.4 646.9,272.3 645.4,272.2 643.9,272.0 642.4,271.9 640.9,271.7 639.3,271.6 637.8,271.4 636.3,271.2 634.8,271.0 633.3,270.8 631.9,270.5 630.4,270.3 628.9,270.0 627.4,269.8 625.9,269.5 624.5,269.2 623.0,268.9 621.5,268.5 620.1,268.2 618.6,267.8 617.2,267.4 615.7,267.0 614.3,266.6 612.9,266.2 611.4,265.7 610.0,265.2 608.6,264.7 607.2,264.2 605.8,263.7 604.4,263.2 603.1,262.6 601.7,262.0 600.3,261.4 599.0,260.8 597.6,260.2 596.3,259.5 595.0,258.8 593.7,258.1 592.4,257.4 591.1,256.7 589.8,255.9 588.5,255.1 587.2,254.3 586.0,253.5 584.7,252.6 583.5,251.8 582.3,250.9 581.1,250.0 579.8,249.1 578.7,248.1 577.5,247.2 576.3,246.2 575.1,245.3 574.0,244.3 572.8,243.3 571.7,242.3 570.6,241.2 569.5,240.2 568.4,239.1 567.3,238.1 566.3,237.0 565.2,236.0 564.2,234.9 563.1,233.8 562.1,232.7 561.1,231.6 560.1,230.4 559.1,229.3 558.2,228.2 557.2,227.0 556.3,225.9 555.3,224.7 554.4,223.5 553.5,222.3 552.7,221.1 551.8,219.9 550.9,218.7 550.1,217.5 549.3,216.2 548.4,215.0 547.6,213.7 546.8,212.4 546.0,211.2 545.2,209.9 544.5,208.6 543.7,207.3 542.9,206.1 542.1,204.8 541.4,203.5 540.6,202.2 539.8,200.9 539.0,199.6 538.2,198.3 537.5,197.1 536.7,195.8 535.9,194.5 535.1,193.2 534.3,191.9 533.6,190.6 532.8,189.3 532.0,188.0 531.3,186.7 530.5,185.4 529.8,184.1 529.0,182.8 528.3,181.5 527.5,180.2 526.8,178.9 526.1,177.6 525.4,176.2 524.7,174.9 524.0,173.6 523.3,172.3 522.6,170.9 521.9,169.6 521.2,168.3 520.6,166.9 519.9,165.6 519.3,164.2 518.6,162.9 518.0,161.5 517.3,160.1 516.7,158.8 516.1,157.4 515.5,156.0 514.9,154.7 514.2,153.3 513.6,151.9 513.0,150.5 512.4,149.2 511.9,147.8 511.3,146.4 510.7,145.0 510.1,143.6 509.5,142.2 509.0,140.8 508.4,139.4 507.8,138.1 507.3,136.7 506.7,135.3 506.1,133.9 505.6,132.5 505.0,131.1 504.5,129.7 503.9,128.3 503.4,126.9 502.8,125.5 502.3,124.1 501.8,122.6 501.2,121.2 500.7,119.8 500.2,118.4 499.7,117.0 499.1,115.6 498.6,114.2 498.1,112.8 497.6,111.4 497.1,109.9 496.6,108.5 496.1,107.1 495.6,105.7 495.1,104.3 494.6,102.8 494.1,101.4 493.6,100.0 493.1,98.6 492.7,97.1 492.2,95.7 491.7,94.3 491.2,92.8 490.8,91.4 490.3,90.0 489.9,88.5 489.4,87.1 488.9,85.7 488.5,84.2 488.0,82.8 487.6,81.4 487.2,79.9 486.7,78.5 486.3,77.0 485.8,75.6 485.4,74.2 485.0,72.7 484.6,71.3 484.1,69.8 483.7,68.4 483.3,66.9 482.9,65.5 482.5,64.0 482.0,62.6 481.6,61.1 481.2,59.7 480.8,58.2 480.4,56.8 480.0,55.3 479.6,53.9 479.3,52.4 478.9,51.0 478.5,49.5 478.1,48.1 477.7,46.6 477.4,45.2 477.0,43.7 476.6,42.2 476.2,40.8 475.9,39.3 475.5,37.9 475.2,36.4 474.8,34.9 474.5,33.5 474.1,32.0 473.8,30.5 473.4,29.1 473.1,27.6 472.8,26.1 472.5,24.7 472.1,23.2 471.8,21.7 471.5,20.3 471.2,18.8 470.9,17.3 470.5,15.9" fill="#00ffff" stroke="none" />
<polygon points="535.5,16.1 535.8,17.6 536.1,19.1 536.4,20.5 536.7,22.0 537.1,23.5 537.4,25.0 537.7,26.4 538.0,27.9 538.3,29.4 538.6,30.9 538.9,32.4 539.2,33.8 539.5,35.3 539.8,36.8 540.1,38.3 540.4,39.8 540.7,41.2 541.0,42.7 541.3,44.2 541.6,45.7 541.9,47.2 542.2,48.7 542.5,50.1 542.8,51.6 543.1,53.1 543.4,54.6 543.6,56.1 543.9,57.6 544.2,59.0 544.5,60.5 544.8,62.0 545.1,63.5 545.4,65.0 545.7,66.5 546.0,67.9 546.3,69.4 546.6,70.9 546.9,72.4 547.2,73.9 547.5,75.4 547.8,76.8 548.1,78.3 548.4,79.8 548.7,81.3 549.0,82.8 549.3,84.2 549.7,85.7 550.0,87.2 550.3,88.7 550.6,90.1 550.9,91.6 551.3,93.1 551.6,94.6 551.9,96.1 552.2,97.5 552.6,99.0 552.9,100.5 553.3,101.9 553.6,103.4 554.0,104.9 554.3,106.4 554.7,107.8 555.0,109.3 555.4,110.8 555.8,112.2 556.1,113.7 556.5,115.2 556.9,116.6 557.3,118.1 557.7,119.5 558.0,121.0 558.4,122.5 558.8,123.9 559.2,125.4 559.7,126.8 560.1,128.3 560.5,129.7 560.9,131.2 561.3,132.6 561.8,134.1 562.2,135.5 562.6,137.0 563.1,138.4 563.5,139.9 563.9,141.3 564.4,142.8 564.8,144.2 565.3,145.7 565.7,147.1 566.2,148.5 566.7,150.0 567.1,151.4 567.6,152.9 568.1,154.3 568.5,155.7 569.0,157.2 569.5,158.6 570.0,160.0 570.4,161.5 570.9,162.9 571.4,164.4 571.9,165.8 572.4,167.2 572.8,168.6 573.3,170.1 573.8,171.5 574.3,172.9 574.8,174.4 575.3,175.8 575.8,177.2 576.3,178.7 576.8,180.1 577.3,181.5 577.9,182.9 578.4,184.3 578.9,185.8 579.4,187.2 580.0,188.6 580.5,190.0 581.0,191.4 581.6,192.8 582.1,194.2 582.7,195.6 583.3,197.0 583.8,198.5 584.4,199.8 585.0,201.2 585.6,202.6 586.2,204.0 586.8,205.4 587.4,206.8 588.1,208.2 588.7,209.5 589.4,210.9 590.0,212.3 590.7,213.6 591.4,215.0 592.1,216.3 592.8,217.7 593.5,219.0 594.2,220.3 595.0,221.6 595.8,222.9 596.5,224.2 597.3,225.5 598.2,226.8 599.0,228.0 599.8,229.3 600.7,230.5 601.5,231.8 602.4,233.0 603.2,234.2 604.1,235.5 605.0,236.7 605.9,237.9 606.8,239.1 607.7,240.3 608.6,241.6 609.6,242.8 610.5,244.0 611.4,245.1 612.4,246.3 613.4,247.5 614.4,248.7 615.3,249.8 616.4,250.9 617.4,252.1 618.4,253.2 619.5,254.2 620.6,255.3 621.7,256.3 622.8,257.4 624.0,258.3 625.1,259.3 626.3,260.2 627.5,261.1 628.7,262.0 630.0,262.9 631.3,263.7 632.6,264.5 633.9,265.2 635.2,265.9 636.6,266.6 637.9,267.3 639.3,267.9 640.7,268.5 642.1,269.0 643.5,269.6 645.0,270.1 646.4,270.5 647.9,271.0 649.3,271.4 650.8,271.7 652.3,272.1 653.8,272.4 655.3,272.7 656.8,272.9 658.3,273.1 659.8,273.3 661.4,273.5 662.9,273.6 664.4,273.7 665.9,273.7 667.5,273.8 669.0,273.8 670.5,273.7 672.0,273.7 673.5,273.6 675.0,273.4 675.0,272.8 673.5,273.0 672.0,273.1 670.5,273.1 669.0,273.2 667.5,273.2 666.0,273.1 664.4,273.1 662.9,273.0 661.4,272.9 659.9,272.7 658.4,272.5 656.9,272.3 655.4,272.1 653.9,271.8 652.4,271.5 651.0,271.2 649.5,270.8 648.0,270.4 646.6,270.0 645.2,269.5 643.7,269.0 642.3,268.5 640.9,267.9 639.5,267.3 638.2,266.7 636.8,266.0 635.5,265.4 634.2,264.6 632.9,263.9 631.6,263.1 630.4,262.3 629.1,261.5 627.9,260.6 626.7,259.7 625.6,258.7 624.4,257.8 623.3,256.8 622.2,255.8 621.1,254.7 620.1,253.7 619.0,252.6 618.0,251.5 617.0,250.4 616.0,249.2 615.0,248.1 614.1,246.9 613.1,245.8 612.2,244.6 611.2,243.4 610.3,242.2 609.4,241.0 608.5,239.8 607.6,238.5 606.7,237.3 605.9,236.1 605.0,234.9 604.1,233.6 603.3,232.4 602.4,231.2 601.6,229.9 600.8,228.7 599.9,227.4 599.1,226.1 598.3,224.9 597.5,223.6 596.8,222.3 596.0,221.0 595.2,219.7 594.5,218.4 593.8,217.1 593.1,215.8 592.4,214.5 591.7,213.1 591.0,211.8 590.4,210.4 589.7,209.1 589.1,207.7 588.5,206.3 587.9,204.9 587.3,203.6 586.7,202.2 586.1,200.8 585.5,199.4 584.9,198.0 584.3,196.6 583.8,195.2 583.2,193.8 582.7,192.4 582.1,191.0 581.6,189.6 581.0,188.2 580.5,186.8 580.0,185.4 579.5,183.9 578.9,182.5 578.4,181.1 577.9,179.7 577.4,178.3 576.9,176.8 576.4,175.4 575.9,174.0 575.4,172.6 574.9,171.1 574.4,169.7 573.9,168.3 573.5,166.8 573.0,165.4 572.5,164.0 572.0,162.6 571.5,161.1 571.0,159.7 570.6,158.2 570.1,156.8 569.6,155.4 569.2,153.9 568.7,152.5 568.2,151.1 567.8,149.6 567.3,148.2 566.8,146.8 566.4,145.3 565.9,143.9 565.5,142.4 565.0,141.0 564.6,139.5 564.2,138.1 563.7,136.7 563.3,135.2 562.9,133.8 562.4,132.3 562.0,130.9 561.6,129.4 561.2,128.0 560.8,126.5 560.4,125.1 559.9,123.6 559.5,122.2 559.2,120.7 558.8,119.2 558.4,117.8 558.0,116.3 557.6,114.9 557.2,113.4 556.9,111.9 556.5,110.5 556.1,109.0 555.8,107.6 555.4,106.1 555.1,104.6 554.7,103.2 554.4,101.7 554.0,100.2 553.7,98.7 553.4,97.3 553.0,95.8 552.7,94.3 552.4,92.9 552.1,91.4 551.7,89.9 551.4,88.4 551.1,87.0 550.8,85.5 550.5,84.0 550.2,82.5 549.8,81.0 549.5,79.6 549.2,78.1 548.9,76.6 548.6,75.1 548.3,73.6 548.0,72.2 547.7,70.7 547.4,69.2 547.1,67.7 546.8,66.2 546.5,64.7 546.2,63.3 545.9,61.8 545.7,60.3 545.4,58.8 545.1,57.3 544.8,55.9 544.5,54.4 544.2,52.9 543.9,51.4 543.6,49.9 543.3,48.4 543.0,47.0 542.7,45.5 542.4,44.0 542.1,42.5 541.8,41.0 541.5,39.5 541.2,38.1 540.9,36.6 540.6,35.1 540.3,33.6 540.0,32.1 539.7,30.7 539.4,29.2 539.1,27.7 538.8,26.2 538.5,24.7 538.2,23.3 537.9,21.8 537.5,20.3 537.2,18.8 536.9,17.3 536.6,15.9" fill="#ff0000" stroke="none" />
</g>
<text transform="translate(63.19,276.60) scale(1.082,1.000)" font-size="15.00" fill="#000">0</text>
<text transform="translate(51.41,190.93) scale(1.041,1.000)" font-size="15.00" fill="#000">0.4</text>
<text transform="translate(51.40,105.27) scale(1.061,1.000)" font-size="15.00" fill="#000">0.8</text>
<text transform="translate(51.28,19.60) scale(1.084,1.000)" font-size="15.00" fill="#000">1.2</text>
<text transform="translate(56.43,287.60) scale(1.005,1.000)" font-size="15.00" fill="#000">0.0001</text>
<text transform="translate(124.78,287.60) scale(1.016,1.000)" font-size="15.00" fill="#000">0.001</text>
<text transform="translate(193.07,287.60) scale(1.037,1.000)" font-size="15.00" fill="#000">0.01</text>
<text transform="translate(261.56,287.60) scale(1.053,1.000)" font-size="15.00" fill="#000">0.1</text>
<text transform="translate(332.26,287.60) scale(0.946,1.000)" font-size="15.00" fill="#000">1</text>
<text transform="translate(0.16,53.10) scale(0.991,1.000)" font-size="13.00" fill="#000" font-style="italic">x</text>
<text transform="translate(7.54,53.10) scale(1.267,1.000)" font-size="13.00" fill="#000" font-style="italic">f</text>
<text transform="translate(14.49,53.60) scale(0.860,1.000)" font-size="14.00" fill="#000">(</text>
<text transform="translate(19.68,53.10) scale(1.094,1.000)" font-size="13.00" fill="#000" font-style="italic">x</text>
<text transform="translate(27.35,53.10) scale(0.718,1.000)" font-size="13.00" fill="#000">,</text>
<text transform="translate(32.29,53.10) scale(0.994,1.000)" font-size="13.00" fill="#000" font-style="italic">Q</text>
<text transform="translate(42.83,48.00) scale(1.144,1.000)" font-size="7.60" fill="#000">2</text>
<text transform="translate(48.96,53.60) scale(0.749,1.000)" font-size="14.00" fill="#000">)</text>
<text transform="translate(77.63,11.60) scale(1.016,1.000)" font-size="13.20" fill="#000">MSHT20NNLO,</text>
<text transform="translate(173.08,11.60) scale(0.969,1.000)" font-size="13.50" fill="#000" font-style="italic">Q</text>
<text transform="translate(183.96,6.50) scale(1.046,1.000)" font-size="7.60" fill="#000">2</text>
<rect x="193.50" y="6.9" width="8.6" height="0.75" fill="#000"/><rect x="193.50" y="10.1" width="8.6" height="0.75" fill="#000"/>
<text transform="translate(409.99,276.60) scale(1.082,1.000)" font-size="15.00" fill="#000">0</text>
<text transform="translate(398.21,190.93) scale(1.041,1.000)" font-size="15.00" fill="#000">0.4</text>
<text transform="translate(398.20,105.27) scale(1.061,1.000)" font-size="15.00" fill="#000">0.8</text>
<text transform="translate(398.08,19.60) scale(1.084,1.000)" font-size="15.00" fill="#000">1.2</text>
<text transform="translate(403.23,287.60) scale(1.005,1.000)" font-size="15.00" fill="#000">0.0001</text>
<text transform="translate(471.58,287.60) scale(1.016,1.000)" font-size="15.00" fill="#000">0.001</text>
<text transform="translate(539.87,287.60) scale(1.037,1.000)" font-size="15.00" fill="#000">0.01</text>
<text transform="translate(608.36,287.60) scale(1.053,1.000)" font-size="15.00" fill="#000">0.1</text>
<text transform="translate(679.06,287.60) scale(0.946,1.000)" font-size="15.00" fill="#000">1</text>
<text transform="translate(346.96,53.10) scale(0.991,1.000)" font-size="13.00" fill="#000" font-style="italic">x</text>
<text transform="translate(354.34,53.10) scale(1.267,1.000)" font-size="13.00" fill="#000" font-style="italic">f</text>
<text transform="translate(361.29,53.60) scale(0.860,1.000)" font-size="14.00" fill="#000">(</text>
<text transform="translate(366.48,53.10) scale(1.094,1.000)" font-size="13.00" fill="#000" font-style="italic">x</text>
<text transform="translate(374.15,53.10) scale(0.718,1.000)" font-size="13.00" fill="#000">,</text>
<text transform="translate(379.09,53.10) scale(0.994,1.000)" font-size="13.00" fill="#000" font-style="italic">Q</text>
<text transform="translate(389.63,48.00) scale(1.144,1.000)" font-size="7.60" fill="#000">2</text>
<text transform="translate(395.76,53.60) scale(0.749,1.000)" font-size="14.00" fill="#000">)</text>
<text transform="translate(424.43,11.60) scale(1.016,1.000)" font-size="13.20" fill="#000">MSHT20NNLO,</text>
<text transform="translate(519.88,11.60) scale(0.969,1.000)" font-size="13.50" fill="#000" font-style="italic">Q</text>
<text transform="translate(530.76,6.50) scale(1.046,1.000)" font-size="7.60" fill="#000">2</text>
<rect x="540.30" y="6.9" width="8.6" height="0.75" fill="#000"/><rect x="540.30" y="10.1" width="8.6" height="0.75" fill="#000"/>
<text transform="translate(206.36,11.60) scale(1.002,1.000)" font-size="13.00" fill="#000">10</text>
<text transform="translate(221.78,11.60) scale(0.983,1.000)" font-size="13.20" fill="#000">GeV</text>
<text transform="translate(247.50,6.50) scale(1.242,1.000)" font-size="7.60" fill="#000">2</text>
<text transform="translate(553.07,11.60) scale(0.993,1.000)" font-size="13.00" fill="#000">10</text>
<text transform="translate(566.74,6.50) scale(1.075,1.000)" font-size="7.60" fill="#000">4</text>
<text transform="translate(574.69,11.60) scale(0.974,1.000)" font-size="13.20" fill="#000">GeV</text>
<text transform="translate(600.01,6.50) scale(1.210,1.000)" font-size="7.60" fill="#000">2</text>
<text transform="translate(188.86,147.50) scale(1.075,1.000)" font-size="12.60" fill="#ff0000" font-weight="bold">g</text>
<text transform="translate(197.10,151.10) scale(1.316,1.480)" font-size="12.60" fill="#ff0000">/</text>
<text transform="translate(203.01,148.40) scale(0.989,1.000)" font-size="12.60" fill="#ff0000">10</text>
<text transform="translate(564.46,121.80) scale(1.075,1.000)" font-size="12.60" fill="#ff0000" font-weight="bold">g</text>
<text transform="translate(572.70,125.40) scale(1.316,1.480)" font-size="12.60" fill="#ff0000">/</text>
<text transform="translate(578.61,122.70) scale(0.989,1.000)" font-size="12.60" fill="#ff0000">10</text>
<text transform="translate(284.99,135.60) scale(1.110,1.000)" font-size="12.60" fill="#0000ff" font-weight="bold">u</text>
<text transform="translate(293.60,136.50) scale(0.968,1.000)" font-size="9.00" fill="#0000ff" font-style="italic" font-weight="bold">V</text>
<text transform="translate(284.43,207.10) scale(1.132,1.000)" font-size="12.60" fill="#00ff00" font-weight="bold">d</text>
<text transform="translate(293.60,208.60) scale(0.968,1.000)" font-size="9.00" fill="#00ff00" font-style="italic" font-weight="bold">V</text>
<text transform="translate(619.19,158.80) scale(1.110,1.000)" font-size="12.60" fill="#0000ff" font-weight="bold">u</text>
<text transform="translate(627.50,159.80) scale(0.968,1.000)" font-size="9.00" fill="#0000ff" font-style="italic" font-weight="bold">V</text>
<text transform="translate(618.33,217.70) scale(1.132,1.000)" font-size="12.60" fill="#00ff00" font-weight="bold">d</text>
<text transform="translate(627.50,218.60) scale(0.968,1.000)" font-size="9.00" fill="#00ff00" font-style="italic" font-weight="bold">V</text>
<text transform="translate(188.79,176.40) scale(1.090,1.000)" font-size="12.60" fill="#5cd2d4" font-weight="bold">s</text>
<text transform="translate(129.19,222.70) scale(1.154,1.000)" font-size="12.60" fill="#ff00ff" font-weight="bold">c</text>
<text transform="translate(557.69,199.40) scale(1.090,1.000)" font-size="12.60" fill="#5cd2d4" font-weight="bold">s</text>
<text transform="translate(518.58,148.20) scale(1.175,1.000)" font-size="12.60" fill="#ff00ff" font-weight="bold">c</text>
<text transform="translate(510.03,173.70) scale(1.090,1.000)" font-size="12.60" fill="#00ffff" font-weight="bold">b</text>
<text transform="translate(248.44,247.10) scale(0.848,1.000)" font-size="12.60" fill="#0000cd" font-weight="bold">u</text>
<rect x="247.4" y="239.2" width="7.0" height="0.8" fill="#0000cd"/>
<text transform="translate(284.86,248.50) scale(1.069,1.000)" font-size="12.60" fill="#33cc33" font-weight="bold">d</text>
<rect x="284.7" y="237.2" width="7.8" height="0.8" fill="#33cc33"/>
<text transform="translate(594.73,247.10) scale(0.925,1.000)" font-size="12.60" fill="#0000cd" font-weight="bold">u</text>
<rect x="594.2" y="239.2" width="7.0" height="0.8" fill="#0000cd"/>
<text transform="translate(622.46,248.50) scale(1.069,1.000)" font-size="12.60" fill="#33cc33" font-weight="bold">d</text>
<rect x="622.2" y="237.2" width="8.3" height="0.8" fill="#33cc33"/>
</svg>
</body></html>
